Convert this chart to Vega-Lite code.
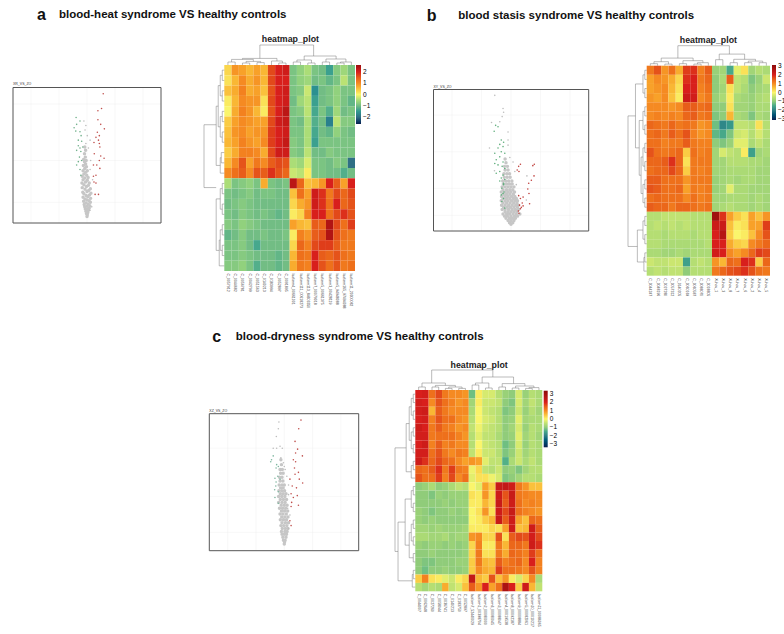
{"$schema":"https://vega.github.io/schema/vega-lite/v6.json","width":784,"height":634,"padding":0,"autosize":{"type":"none"},"background":"white","config":{"font":"Liberation Sans","view":{"stroke":null}},"resolve":{"scale":{"x":"independent","y":"independent","color":"independent"}},"layer":[
{"layer":[
{"data":{"values":[{"v":-2},{"v":-1},{"v":0},{"v":1},{"v":2}]},"mark":{"type":"rule","stroke":"#eeeeee","strokeWidth":0.4},"encoding":{"x":{"field":"v","type":"quantitative","axis":null,"scale":{"domain":[-2.643,2.643],"range":[13,161],"nice":false,"zero":false}},"y":{"datum":-0.53,"type":"quantitative","axis":null,"scale":{"domain":[-0.53,11.46],"range":[223,87.5],"nice":false,"zero":false}},"y2":{"datum":11.46}}},
{"data":{"values":[{"v":1.3},{"v":5},{"v":10}]},"mark":{"type":"rule","stroke":"#eeeeee","strokeWidth":0.4},"encoding":{"y":{"field":"v","type":"quantitative","axis":null},"x":{"datum":-2.643,"type":"quantitative","axis":null},"x2":{"datum":2.643}}},
{"data":{"values":[{"x":0,"y":0.05},{"x":0.01,"y":0.2},{"x":-0.02,"y":0.3},{"x":0.03,"y":0.4},{"x":-0.04,"y":0.5},{"x":0.05,"y":0.6},{"x":-0.06,"y":0.7},{"x":0.02,"y":0.7},{"x":0.08,"y":0.8},{"x":-0.08,"y":0.9},{"x":0,"y":0.95},{"x":0.1,"y":1},{"x":-0.1,"y":1.1},{"x":0.04,"y":1.15},{"x":-0.04,"y":1.25},{"x":0.12,"y":1.3},{"x":-0.12,"y":1.4},{"x":0.07,"y":1.45},{"x":0,"y":1.5},{"x":-0.07,"y":1.6},{"x":0.13,"y":1.65},{"x":-0.14,"y":1.75},{"x":0.03,"y":1.8},{"x":-0.03,"y":1.9},{"x":0.09,"y":1.95},{"x":-0.11,"y":2.05},{"x":0.14,"y":2.1},{"x":-0.15,"y":2.2},{"x":0,"y":2.25},{"x":0.06,"y":2.35},{"x":-0.07,"y":2.45},{"x":0.12,"y":2.5},{"x":-0.17,"y":2.6},{"x":-0.02,"y":2.7},{"x":0.05,"y":2.8},{"x":-0.11,"y":2.85},{"x":-0.18,"y":3},{"x":0.08,"y":3},{"x":-0.05,"y":3.1},{"x":0.01,"y":3.25},{"x":-0.14,"y":3.3},{"x":-0.08,"y":3.45},{"x":0.04,"y":3.5},{"x":-0.17,"y":3.6},{"x":-0.01,"y":3.7},{"x":-0.11,"y":3.8},{"x":-0.05,"y":3.95},{"x":0.01,"y":4.1},{"x":-0.14,"y":4.1},{"x":-0.08,"y":4.3},{"x":-0.02,"y":4.45},{"x":-0.13,"y":4.55},{"x":-0.05,"y":4.7},{"x":-0.09,"y":4.9},{"x":-0.03,"y":5},{"x":-0.12,"y":5.1},{"x":-0.06,"y":5.3},{"x":-0.09,"y":5.6},{"x":-0.05,"y":5.9},{"x":-0.08,"y":6.2}]},"mark":{"type":"circle","size":12,"color":"#c6c6c6","opacity":1},"encoding":{"x":{"field":"x","type":"quantitative","axis":{"orient":"bottom","offset":-411,"values":[-2,-1,-0.263,0.263,1,2],"format":"~g","title":"log2 FoldChange","titleFontSize":3.5,"titleFontWeight":"normal","titlePadding":2,"labelFontSize":3,"labelOverlap":false,"tickSize":1,"tickWidth":0.3,"labelPadding":1,"domain":false,"grid":false}},"y":{"field":"y","type":"quantitative","axis":{"orient":"left","offset":-13,"values":[1.3,5,10],"title":"-log10 P-Value","titleFontSize":3.5,"titleFontWeight":"normal","titlePadding":3,"labelFontSize":3,"labelOverlap":false,"tickSize":1,"tickWidth":0.3,"labelPadding":1,"domain":false,"grid":false}}}},
{"data":{"values":[{"x":-0.11,"y":8.5,"g":"n"},{"x":-0.04,"y":8.1,"g":"n"},{"x":-0.07,"y":7.7,"g":"n"},{"x":0.01,"y":7.2,"g":"n"},{"x":0.11,"y":6.8,"g":"n"},{"x":-0.04,"y":6.5,"g":"n"},{"x":0.05,"y":6.1,"g":"n"},{"x":0.13,"y":5,"g":"n"},{"x":0.11,"y":4.2,"g":"n"},{"x":0.2,"y":3.3,"g":"n"},{"x":0.17,"y":0.9,"g":"n"},{"x":0.11,"y":0.6,"g":"n"},{"x":-0.39,"y":8.8,"g":"d"},{"x":-0.25,"y":8.5,"g":"d"},{"x":-0.37,"y":8.2,"g":"d"},{"x":-0.46,"y":7.9,"g":"d"},{"x":-0.25,"y":7.55,"g":"d"},{"x":-0.4,"y":7.6,"g":"d"},{"x":-0.21,"y":7.2,"g":"d"},{"x":-0.31,"y":6.8,"g":"d"},{"x":-0.19,"y":6.7,"g":"d"},{"x":-0.31,"y":6.3,"g":"d"},{"x":-0.25,"y":6.1,"g":"d"},{"x":-0.37,"y":5.9,"g":"d"},{"x":-0.15,"y":6.2,"g":"d"},{"x":-0.22,"y":5.8,"g":"d"},{"x":-0.27,"y":5.3,"g":"d"},{"x":-0.31,"y":4.9,"g":"d"},{"x":-0.19,"y":5,"g":"d"},{"x":-0.25,"y":4.2,"g":"d"},{"x":-0.37,"y":4.6,"g":"d"},{"x":-0.22,"y":3.7,"g":"d"},{"x":0.58,"y":10.9,"g":"u"},{"x":0.52,"y":9.6,"g":"u"},{"x":0.39,"y":9.4,"g":"u"},{"x":0.39,"y":8.6,"g":"u"},{"x":0.49,"y":8.2,"g":"u"},{"x":0.62,"y":7.8,"g":"u"},{"x":0.37,"y":7.5,"g":"u"},{"x":0.44,"y":7.2,"g":"u"},{"x":0.32,"y":7.05,"g":"u"},{"x":0.41,"y":6.8,"g":"u"},{"x":0.25,"y":6.6,"g":"u"},{"x":0.44,"y":6.5,"g":"u"},{"x":0.46,"y":6.2,"g":"u"},{"x":0.26,"y":5.6,"g":"u"},{"x":0.49,"y":5.4,"g":"u"},{"x":0.44,"y":5,"g":"u"},{"x":0.61,"y":5.2,"g":"u"},{"x":0.23,"y":4.6,"g":"u"},{"x":0.35,"y":4.6,"g":"u"},{"x":0.46,"y":4.3,"g":"u"},{"x":0.32,"y":3.7,"g":"u"},{"x":0.23,"y":3.6,"g":"u"},{"x":0.25,"y":3.1,"g":"u"},{"x":0.32,"y":3,"g":"u"},{"x":0.29,"y":2,"g":"u"},{"x":0.41,"y":2,"g":"u"}]},"mark":{"type":"circle","size":2.5,"opacity":1},"encoding":{"x":{"field":"x","type":"quantitative","axis":null},"y":{"field":"y","type":"quantitative","axis":null},"color":{"field":"g","type":"nominal","legend":null,"scale":{"domain":["n","d","u"],"range":["#bdbdbd","#6fb08a","#c0504d"]}}}},
{"data":{"values":[{}]},"mark":{"type":"rect","filled":false,"stroke":"#555555","strokeWidth":1},"encoding":{"x":{"datum":-2.643,"type":"quantitative","axis":null},"x2":{"datum":2.643},"y":{"datum":-0.53,"type":"quantitative","axis":null},"y2":{"datum":11.46}}},
{"data":{"values":[{"t":"XR_VS_ZO"}]},"mark":{"type":"text","align":"left","baseline":"middle","fontSize":3.5,"color":"#333333"},"encoding":{"x":{"datum":-2.643,"type":"quantitative","axis":null},"y":{"datum":11.77,"type":"quantitative","axis":null},"text":{"field":"t"}}},
{"data":{"values":[{"t":"a"}]},"mark":{"type":"text","align":"left","baseline":"middle","fontSize":16,"fontWeight":"bold","color":"#111111"},"encoding":{"x":{"datum":-1.786,"type":"quantitative","axis":null},"y":{"datum":17.88,"type":"quantitative","axis":null},"text":{"field":"t"}}},
{"data":{"values":[{"t":"blood-heat syndrome VS healthy controls"}]},"mark":{"type":"text","align":"left","baseline":"middle","fontSize":11.5,"fontWeight":"bold","color":"#111111"},"encoding":{"x":{"datum":-1,"type":"quantitative","axis":null},"y":{"datum":17.88,"type":"quantitative","axis":null},"text":{"field":"t"}}}
]},
{"data":{"values":[{"r":1,"c":1,"v":0.3},{"r":1,"c":2,"v":0.9},{"r":1,"c":3,"v":0.8},{"r":1,"c":4,"v":0.6},{"r":1,"c":5,"v":0.8},{"r":1,"c":6,"v":0.6},{"r":1,"c":7,"v":1.7},{"r":1,"c":8,"v":2},{"r":1,"c":9,"v":2.1},{"r":1,"c":10,"v":-0.9},{"r":1,"c":11,"v":-0.7},{"r":1,"c":12,"v":-0.5},{"r":1,"c":13,"v":-0.9},{"r":1,"c":14,"v":-1},{"r":1,"c":15,"v":-1.4},{"r":1,"c":16,"v":-0.8},{"r":1,"c":17,"v":-0.6},{"r":1,"c":18,"v":-0.9},
{"r":2,"c":1,"v":0.2},{"r":2,"c":2,"v":0.6},{"r":2,"c":3,"v":1},{"r":2,"c":4,"v":0.7},{"r":2,"c":5,"v":0.9},{"r":2,"c":6,"v":0.6},{"r":2,"c":7,"v":1.7},{"r":2,"c":8,"v":2},{"r":2,"c":9,"v":2},{"r":2,"c":10,"v":-0.9},{"r":2,"c":11,"v":-0.7},{"r":2,"c":12,"v":-0.6},{"r":2,"c":13,"v":-1},{"r":2,"c":14,"v":-0.9},{"r":2,"c":15,"v":-1.1},{"r":2,"c":16,"v":-0.9},{"r":2,"c":17,"v":-0.4},{"r":2,"c":18,"v":-0.9},
{"r":3,"c":1,"v":0.5},{"r":3,"c":2,"v":0.7},{"r":3,"c":3,"v":1.1},{"r":3,"c":4,"v":0.7},{"r":3,"c":5,"v":0.8},{"r":3,"c":6,"v":0.5},{"r":3,"c":7,"v":1.6},{"r":3,"c":8,"v":2},{"r":3,"c":9,"v":2.1},{"r":3,"c":10,"v":-0.9},{"r":3,"c":11,"v":-0.8},{"r":3,"c":12,"v":-0.3},{"r":3,"c":13,"v":-1.6},{"r":3,"c":14,"v":-1},{"r":3,"c":15,"v":-0.9},{"r":3,"c":16,"v":-0.7},{"r":3,"c":17,"v":-0.9},{"r":3,"c":18,"v":-0.9},
{"r":4,"c":1,"v":0.1},{"r":4,"c":2,"v":0.6},{"r":4,"c":3,"v":1},{"r":4,"c":4,"v":0.9},{"r":4,"c":5,"v":0.9},{"r":4,"c":6,"v":0.2},{"r":4,"c":7,"v":1.7},{"r":4,"c":8,"v":2},{"r":4,"c":9,"v":2.1},{"r":4,"c":10,"v":-1},{"r":4,"c":11,"v":-0.6},{"r":4,"c":12,"v":-0.4},{"r":4,"c":13,"v":-1.4},{"r":4,"c":14,"v":-1},{"r":4,"c":15,"v":-0.9},{"r":4,"c":16,"v":-0.7},{"r":4,"c":17,"v":-0.9},{"r":4,"c":18,"v":-1.1},
{"r":5,"c":1,"v":0},{"r":5,"c":2,"v":0.7},{"r":5,"c":3,"v":1.1},{"r":5,"c":4,"v":0.9},{"r":5,"c":5,"v":0.6},{"r":5,"c":6,"v":0.1},{"r":5,"c":7,"v":1.6},{"r":5,"c":8,"v":2},{"r":5,"c":9,"v":2.3},{"r":5,"c":10,"v":-0.9},{"r":5,"c":11,"v":-0.8},{"r":5,"c":12,"v":-0.4},{"r":5,"c":13,"v":-1.3},{"r":5,"c":14,"v":-0.9},{"r":5,"c":15,"v":-1.2},{"r":5,"c":16,"v":-0.6},{"r":5,"c":17,"v":-1},{"r":5,"c":18,"v":-0.9},
{"r":6,"c":1,"v":0.4},{"r":6,"c":2,"v":0.8},{"r":6,"c":3,"v":1},{"r":6,"c":4,"v":0.9},{"r":6,"c":5,"v":0.8},{"r":6,"c":6,"v":0.8},{"r":6,"c":7,"v":1.7},{"r":6,"c":8,"v":2.1},{"r":6,"c":9,"v":2.2},{"r":6,"c":10,"v":-0.9},{"r":6,"c":11,"v":-1},{"r":6,"c":12,"v":-0.5},{"r":6,"c":13,"v":-1.2},{"r":6,"c":14,"v":-1},{"r":6,"c":15,"v":-1.8},{"r":6,"c":16,"v":-0.4},{"r":6,"c":17,"v":-0.8},{"r":6,"c":18,"v":-0.8},
{"r":7,"c":1,"v":0.5},{"r":7,"c":2,"v":0.9},{"r":7,"c":3,"v":1},{"r":7,"c":4,"v":0.8},{"r":7,"c":5,"v":0.9},{"r":7,"c":6,"v":0.9},{"r":7,"c":7,"v":1.8},{"r":7,"c":8,"v":2},{"r":7,"c":9,"v":2.1},{"r":7,"c":10,"v":-0.9},{"r":7,"c":11,"v":-0.9},{"r":7,"c":12,"v":-0.5},{"r":7,"c":13,"v":-1.3},{"r":7,"c":14,"v":-1},{"r":7,"c":15,"v":-1.1},{"r":7,"c":16,"v":-0.7},{"r":7,"c":17,"v":-0.9},{"r":7,"c":18,"v":-1},
{"r":8,"c":1,"v":0.6},{"r":8,"c":2,"v":0.8},{"r":8,"c":3,"v":1.1},{"r":8,"c":4,"v":0.9},{"r":8,"c":5,"v":0.8},{"r":8,"c":6,"v":1},{"r":8,"c":7,"v":1.8},{"r":8,"c":8,"v":2},{"r":8,"c":9,"v":2.2},{"r":8,"c":10,"v":-0.8},{"r":8,"c":11,"v":-0.9},{"r":8,"c":12,"v":-0.5},{"r":8,"c":13,"v":-1.4},{"r":8,"c":14,"v":-0.9},{"r":8,"c":15,"v":-0.9},{"r":8,"c":16,"v":-0.9},{"r":8,"c":17,"v":-0.9},{"r":8,"c":18,"v":-0.9},
{"r":9,"c":1,"v":0.4},{"r":9,"c":2,"v":0.7},{"r":9,"c":3,"v":1.1},{"r":9,"c":4,"v":1.1},{"r":9,"c":5,"v":1},{"r":9,"c":6,"v":0.7},{"r":9,"c":7,"v":1.7},{"r":9,"c":8,"v":2.1},{"r":9,"c":9,"v":2.1},{"r":9,"c":10,"v":-0.8},{"r":9,"c":11,"v":-0.9},{"r":9,"c":12,"v":-0.4},{"r":9,"c":13,"v":-1},{"r":9,"c":14,"v":-1},{"r":9,"c":15,"v":-0.8},{"r":9,"c":16,"v":-0.9},{"r":9,"c":17,"v":-0.9},{"r":9,"c":18,"v":-0.9},
{"r":10,"c":1,"v":0.6},{"r":10,"c":2,"v":1},{"r":10,"c":3,"v":1.6},{"r":10,"c":4,"v":0.8},{"r":10,"c":5,"v":1.2},{"r":10,"c":6,"v":1},{"r":10,"c":7,"v":1.5},{"r":10,"c":8,"v":1.7},{"r":10,"c":9,"v":1.6},{"r":10,"c":10,"v":-0.5},{"r":10,"c":11,"v":-0.6},{"r":10,"c":12,"v":-0.2},{"r":10,"c":13,"v":-0.9},{"r":10,"c":14,"v":-0.9},{"r":10,"c":15,"v":-1},{"r":10,"c":16,"v":-0.8},{"r":10,"c":17,"v":-0.9},{"r":10,"c":18,"v":-2},
{"r":11,"c":1,"v":1},{"r":11,"c":2,"v":1.3},{"r":11,"c":3,"v":1.5},{"r":11,"c":4,"v":1},{"r":11,"c":5,"v":1.6},{"r":11,"c":6,"v":1.5},{"r":11,"c":7,"v":1.9},{"r":11,"c":8,"v":1.6},{"r":11,"c":9,"v":1.4},{"r":11,"c":10,"v":-0.3},{"r":11,"c":11,"v":-0.4},{"r":11,"c":12,"v":0.1},{"r":11,"c":13,"v":-0.9},{"r":11,"c":14,"v":-0.9},{"r":11,"c":15,"v":-1},{"r":11,"c":16,"v":-1},{"r":11,"c":17,"v":-1.2},{"r":11,"c":18,"v":-1},
{"r":12,"c":1,"v":-0.5},{"r":12,"c":2,"v":-0.9},{"r":12,"c":3,"v":-0.8},{"r":12,"c":4,"v":-0.7},{"r":12,"c":5,"v":-0.9},{"r":12,"c":6,"v":0.7},{"r":12,"c":7,"v":-0.9},{"r":12,"c":8,"v":-1},{"r":12,"c":9,"v":-0.9},{"r":12,"c":10,"v":2.3},{"r":12,"c":11,"v":1.4},{"r":12,"c":12,"v":0.5},{"r":12,"c":13,"v":0.6},{"r":12,"c":14,"v":0.9},{"r":12,"c":15,"v":2},{"r":12,"c":16,"v":1.5},{"r":12,"c":17,"v":0.8},{"r":12,"c":18,"v":2},
{"r":13,"c":1,"v":-0.9},{"r":13,"c":2,"v":-1},{"r":13,"c":3,"v":-0.9},{"r":13,"c":4,"v":-0.8},{"r":13,"c":5,"v":-1},{"r":13,"c":6,"v":-0.9},{"r":13,"c":7,"v":-0.9},{"r":13,"c":8,"v":-1},{"r":13,"c":9,"v":-1},{"r":13,"c":10,"v":0.5},{"r":13,"c":11,"v":1.3},{"r":13,"c":12,"v":0.8},{"r":13,"c":13,"v":2.1},{"r":13,"c":14,"v":1.9},{"r":13,"c":15,"v":1.2},{"r":13,"c":16,"v":1.7},{"r":13,"c":17,"v":1.4},{"r":13,"c":18,"v":1.7},
{"r":14,"c":1,"v":-1},{"r":14,"c":2,"v":-0.9},{"r":14,"c":3,"v":-0.8},{"r":14,"c":4,"v":-0.9},{"r":14,"c":5,"v":-1},{"r":14,"c":6,"v":-1},{"r":14,"c":7,"v":-1},{"r":14,"c":8,"v":-1},{"r":14,"c":9,"v":-1},{"r":14,"c":10,"v":0.3},{"r":14,"c":11,"v":0.7},{"r":14,"c":12,"v":0.9},{"r":14,"c":13,"v":2.1},{"r":14,"c":14,"v":1.9},{"r":14,"c":15,"v":1.3},{"r":14,"c":16,"v":2},{"r":14,"c":17,"v":1.4},{"r":14,"c":18,"v":1.6},
{"r":15,"c":1,"v":-0.9},{"r":15,"c":2,"v":-1},{"r":15,"c":3,"v":-0.8},{"r":15,"c":4,"v":-0.9},{"r":15,"c":5,"v":-1},{"r":15,"c":6,"v":-0.9},{"r":15,"c":7,"v":-1},{"r":15,"c":8,"v":-1.1},{"r":15,"c":9,"v":-1},{"r":15,"c":10,"v":0.1},{"r":15,"c":11,"v":0.3},{"r":15,"c":12,"v":1.1},{"r":15,"c":13,"v":2},{"r":15,"c":14,"v":2},{"r":15,"c":15,"v":1.3},{"r":15,"c":16,"v":1.7},{"r":15,"c":17,"v":1.9},{"r":15,"c":18,"v":1.6},
{"r":16,"c":1,"v":-0.8},{"r":16,"c":2,"v":-0.9},{"r":16,"c":3,"v":-0.7},{"r":16,"c":4,"v":-0.8},{"r":16,"c":5,"v":-0.9},{"r":16,"c":6,"v":-1},{"r":16,"c":7,"v":-1},{"r":16,"c":8,"v":-1},{"r":16,"c":9,"v":-1},{"r":16,"c":10,"v":0.8},{"r":16,"c":11,"v":0.6},{"r":16,"c":12,"v":0.5},{"r":16,"c":13,"v":1.5},{"r":16,"c":14,"v":1.4},{"r":16,"c":15,"v":2.4},{"r":16,"c":16,"v":1.7},{"r":16,"c":17,"v":1.3},{"r":16,"c":18,"v":1.8},
{"r":17,"c":1,"v":-1.1},{"r":17,"c":2,"v":-1},{"r":17,"c":3,"v":-0.8},{"r":17,"c":4,"v":-1},{"r":17,"c":5,"v":-1},{"r":17,"c":6,"v":-0.9},{"r":17,"c":7,"v":-1},{"r":17,"c":8,"v":-1},{"r":17,"c":9,"v":-0.9},{"r":17,"c":10,"v":0.1},{"r":17,"c":11,"v":1.1},{"r":17,"c":12,"v":0.9},{"r":17,"c":13,"v":1.5},{"r":17,"c":14,"v":1.6},{"r":17,"c":15,"v":2.4},{"r":17,"c":16,"v":1.6},{"r":17,"c":17,"v":1.3},{"r":17,"c":18,"v":1.2},
{"r":18,"c":1,"v":-0.9},{"r":18,"c":2,"v":-0.9},{"r":18,"c":3,"v":-0.8},{"r":18,"c":4,"v":-1},{"r":18,"c":5,"v":-1.3},{"r":18,"c":6,"v":-1},{"r":18,"c":7,"v":-1},{"r":18,"c":8,"v":-1},{"r":18,"c":9,"v":-1},{"r":18,"c":10,"v":0.3},{"r":18,"c":11,"v":1.4},{"r":18,"c":12,"v":1.1},{"r":18,"c":13,"v":1.7},{"r":18,"c":14,"v":1.8},{"r":18,"c":15,"v":1.8},{"r":18,"c":16,"v":1.5},{"r":18,"c":17,"v":1.2},{"r":18,"c":18,"v":1.2},
{"r":19,"c":1,"v":-0.9},{"r":19,"c":2,"v":-0.9},{"r":19,"c":3,"v":-0.8},{"r":19,"c":4,"v":-0.9},{"r":19,"c":5,"v":-1},{"r":19,"c":6,"v":-1},{"r":19,"c":7,"v":-1},{"r":19,"c":8,"v":-1.1},{"r":19,"c":9,"v":-1},{"r":19,"c":10,"v":0.6},{"r":19,"c":11,"v":1.3},{"r":19,"c":12,"v":1.2},{"r":19,"c":13,"v":2},{"r":19,"c":14,"v":1.5},{"r":19,"c":15,"v":1.4},{"r":19,"c":16,"v":1.6},{"r":19,"c":17,"v":1.3},{"r":19,"c":18,"v":1.2},
{"r":20,"c":1,"v":-0.8},{"r":20,"c":2,"v":-0.8},{"r":20,"c":3,"v":-0.7},{"r":20,"c":4,"v":-0.9},{"r":20,"c":5,"v":-1.2},{"r":20,"c":6,"v":-1},{"r":20,"c":7,"v":-1},{"r":20,"c":8,"v":-1.1},{"r":20,"c":9,"v":-1},{"r":20,"c":10,"v":0.7},{"r":20,"c":11,"v":1.2},{"r":20,"c":12,"v":1.1},{"r":20,"c":13,"v":2},{"r":20,"c":14,"v":1.6},{"r":20,"c":15,"v":1.3},{"r":20,"c":16,"v":1.6},{"r":20,"c":17,"v":1.2},{"r":20,"c":18,"v":1.3}]},"mark":{"type":"rect","stroke":null},"encoding":{"x":{"field":"c","type":"ordinal","scale":{"domain":[1,2,3,4,5,6,7,8,9,10,11,12,13,14,15,16,17,18],"range":[224.3,355],"paddingInner":0,"paddingOuter":0},"axis":{"orient":"bottom","offset":-363,"title":null,"domain":false,"ticks":false,"labelAngle":90,"labelAlign":"left","labelBaseline":"middle","labelFontSize":3.5,"labelColor":"#333333","labelPadding":2,"labelOverlap":false,"labelBound":false,"labelExpr":"['C_0057912','C_0044682','C_0056781','C_0042799','C_0051563','C_0140213','C_0183994','C_0052897','C_0091895','Isoform4_00661001','Isoform111_00618273','Isoform113_84603350','Isoform7_00079018','Isoform5_00661375','Isoform3_00428119','Isoform5_94948088','Isoform165_97494088','Isoform11_20000082'][datum.value-1]"}},"y":{"field":"r","type":"ordinal","axis":null,"scale":{"domain":[1,2,3,4,5,6,7,8,9,10,11,12,13,14,15,16,17,18,19,20],"range":[65,271],"paddingInner":0,"paddingOuter":0}},"color":{"field":"v","type":"quantitative","scale":{"domain":[-2.62,-2,-1,0,1,2,2.62],"range":["#0d1f4f","#2f6f85","#72bd84","#faf56c","#f58a22","#d81f1c","#9c0e0e"]},"legend":{"orient":"none","legendX":356,"legendY":65,"title":null,"gradientLength":59,"gradientThickness":5,"values":[-2,-1,0,1,2],"labelFontSize":6.5,"labelOverlap":false,"labelOffset":2,"padding":0}}}},
{"layer":[
{"data":{"values":[{"a":0.5,"b":1.5,"p":1.5,"q":1.5},{"a":0.5,"b":0.5,"p":0,"q":1.5},{"a":1.5,"b":1.5,"p":0,"q":1.5},{"a":2.5,"b":3.5,"p":1,"q":1},{"a":2.5,"b":2.5,"p":0,"q":1},{"a":3.5,"b":3.5,"p":0,"q":1},{"a":4.5,"b":5.5,"p":1.2,"q":1.2},{"a":4.5,"b":4.5,"p":0,"q":1.2},{"a":5.5,"b":5.5,"p":0,"q":1.2},{"a":3,"b":5,"p":1.8,"q":1.8},{"a":3,"b":3,"p":1,"q":1.8},{"a":5,"b":5,"p":1.2,"q":1.8},{"a":1,"b":4,"p":2.8,"q":2.8},{"a":1,"b":1,"p":1.5,"q":2.8},{"a":4,"b":4,"p":1.8,"q":2.8},{"a":7.5,"b":8.5,"p":1,"q":1},{"a":7.5,"b":7.5,"p":0,"q":1},{"a":8.5,"b":8.5,"p":0,"q":1},{"a":6.5,"b":8,"p":2,"q":2},{"a":6.5,"b":6.5,"p":0,"q":2},{"a":8,"b":8,"p":1,"q":2},{"a":2.5,"b":7.25,"p":3.3,"q":3.3},{"a":2.5,"b":2.5,"p":2.8,"q":3.3},{"a":7.25,"b":7.25,"p":2,"q":3.3},{"a":9.5,"b":10.5,"p":1.5,"q":1.5},{"a":9.5,"b":9.5,"p":0,"q":1.5},{"a":10.5,"b":10.5,"p":0,"q":1.5},{"a":11.5,"b":12.5,"p":1,"q":1},{"a":11.5,"b":11.5,"p":0,"q":1},{"a":12.5,"b":12.5,"p":0,"q":1},{"a":10,"b":12,"p":2.5,"q":2.5},{"a":10,"b":10,"p":1.5,"q":2.5},{"a":12,"b":12,"p":1,"q":2.5},{"a":13.5,"b":14.5,"p":1.5,"q":1.5},{"a":13.5,"b":13.5,"p":0,"q":1.5},{"a":14.5,"b":14.5,"p":0,"q":1.5},{"a":15.5,"b":16.5,"p":1,"q":1},{"a":15.5,"b":15.5,"p":0,"q":1},{"a":16.5,"b":16.5,"p":0,"q":1},{"a":16,"b":17.5,"p":1.5,"q":1.5},{"a":16,"b":16,"p":1,"q":1.5},{"a":17.5,"b":17.5,"p":0,"q":1.5},{"a":14,"b":16.75,"p":3,"q":3},{"a":14,"b":14,"p":1.5,"q":3},{"a":16.75,"b":16.75,"p":1.5,"q":3},{"a":11,"b":15.4,"p":4.5,"q":4.5},{"a":11,"b":11,"p":2.5,"q":4.5},{"a":15.4,"b":15.4,"p":3,"q":4.5},{"a":4.9,"b":12.3,"p":10,"q":10},{"a":4.9,"b":4.9,"p":3.3,"q":10},{"a":12.3,"b":12.3,"p":4.5,"q":10}]},"mark":{"type":"rule","stroke":"#777777","strokeWidth":0.5},"encoding":{"x":{"field":"a","type":"quantitative","axis":null,"scale":{"domain":[0,18],"range":[224.3,355],"nice":false,"zero":false}},"x2":{"field":"b"},"y":{"field":"p","type":"quantitative","axis":null,"scale":{"domain":[0,10],"range":[65,45],"nice":false,"zero":false}},"y2":{"field":"q"}}},
{"data":{"values":[{"t":"heatmap_plot"}]},"mark":{"type":"text","align":"center","baseline":"middle","fontSize":8.8,"fontWeight":"bold","color":"#222222"},"encoding":{"x":{"datum":9.1,"type":"quantitative","axis":null},"y":{"datum":13,"type":"quantitative","axis":null},"text":{"field":"t"}}}
]},
{"data":{"values":[{"a":1,"b":1,"p":0.5,"q":1.5},{"a":0,"b":1,"p":0.5,"q":0.5},{"a":0,"b":1,"p":1.5,"q":1.5},{"a":1,"b":1,"p":2.5,"q":3.5},{"a":0,"b":1,"p":2.5,"q":2.5},{"a":0,"b":1,"p":3.5,"q":3.5},{"a":2,"b":2,"p":1,"q":3},{"a":1,"b":2,"p":1,"q":1},{"a":1,"b":2,"p":3,"q":3},{"a":1,"b":1,"p":4.5,"q":5.5},{"a":0,"b":1,"p":4.5,"q":4.5},{"a":0,"b":1,"p":5.5,"q":5.5},{"a":1,"b":1,"p":6.5,"q":7.5},{"a":0,"b":1,"p":6.5,"q":6.5},{"a":0,"b":1,"p":7.5,"q":7.5},{"a":2,"b":2,"p":5,"q":7},{"a":1,"b":2,"p":5,"q":5},{"a":1,"b":2,"p":7,"q":7},{"a":3,"b":3,"p":2,"q":6},{"a":2,"b":3,"p":2,"q":2},{"a":2,"b":3,"p":6,"q":6},{"a":1.5,"b":1.5,"p":8.5,"q":9.5},{"a":0,"b":1.5,"p":8.5,"q":8.5},{"a":0,"b":1.5,"p":9.5,"q":9.5},{"a":2,"b":2,"p":9,"q":10.5},{"a":1.5,"b":2,"p":9,"q":9},{"a":0,"b":2,"p":10.5,"q":10.5},{"a":4,"b":4,"p":4,"q":9.75},{"a":3,"b":4,"p":4,"q":4},{"a":2,"b":4,"p":9.75,"q":9.75},{"a":1,"b":1,"p":11.5,"q":12.5},{"a":0,"b":1,"p":11.5,"q":11.5},{"a":0,"b":1,"p":12.5,"q":12.5},{"a":1,"b":1,"p":13.5,"q":14.5},{"a":0,"b":1,"p":13.5,"q":13.5},{"a":0,"b":1,"p":14.5,"q":14.5},{"a":2,"b":2,"p":12,"q":14},{"a":1,"b":2,"p":12,"q":12},{"a":1,"b":2,"p":14,"q":14},{"a":1,"b":1,"p":15.5,"q":16.5},{"a":0,"b":1,"p":15.5,"q":15.5},{"a":0,"b":1,"p":16.5,"q":16.5},{"a":1,"b":1,"p":17.5,"q":18.5},{"a":0,"b":1,"p":17.5,"q":17.5},{"a":0,"b":1,"p":18.5,"q":18.5},{"a":2,"b":2,"p":16,"q":18},{"a":1,"b":2,"p":16,"q":16},{"a":1,"b":2,"p":18,"q":18},{"a":2.5,"b":2.5,"p":17,"q":19.5},{"a":2,"b":2.5,"p":17,"q":17},{"a":0,"b":2.5,"p":19.5,"q":19.5},{"a":4,"b":4,"p":13,"q":18},{"a":2,"b":4,"p":13,"q":13},{"a":2.5,"b":4,"p":18,"q":18},{"a":10,"b":10,"p":5.8,"q":11.9},{"a":4,"b":10,"p":5.8,"q":5.8},{"a":4,"b":10,"p":11.9,"q":11.9}]},"mark":{"type":"rule","stroke":"#777777","strokeWidth":0.5},"encoding":{"x":{"field":"a","type":"quantitative","axis":null,"scale":{"domain":[0,10],"range":[224.3,204],"nice":false,"zero":false}},"x2":{"field":"b"},"y":{"field":"p","type":"quantitative","axis":null,"scale":{"domain":[0,20],"range":[65,271],"nice":false,"zero":false}},"y2":{"field":"q"}}},
{"layer":[
{"data":{"values":[{"v":-2},{"v":-1},{"v":0},{"v":1},{"v":2}]},"mark":{"type":"rule","stroke":"#eeeeee","strokeWidth":0.4},"encoding":{"x":{"field":"v","type":"quantitative","axis":null,"scale":{"domain":[-2.627,2.634],"range":[433.5,588.7],"nice":false,"zero":false}},"y":{"datum":-0.83,"type":"quantitative","axis":null,"scale":{"domain":[-0.83,18.5],"range":[231,89.5],"nice":false,"zero":false}},"y2":{"datum":18.5}}},
{"data":{"values":[{"v":1.3},{"v":5},{"v":10},{"v":15}]},"mark":{"type":"rule","stroke":"#eeeeee","strokeWidth":0.4},"encoding":{"y":{"field":"v","type":"quantitative","axis":null},"x":{"datum":-2.627,"type":"quantitative","axis":null},"x2":{"datum":2.634}}},
{"data":{"values":[{"x":0,"y":0.1},{"x":-0.05,"y":0.3},{"x":0.06,"y":0.3},{"x":-0.1,"y":0.6},{"x":0.1,"y":0.6},{"x":0,"y":0.6},{"x":-0.17,"y":0.9},{"x":0.15,"y":0.9},{"x":-0.05,"y":0.9},{"x":0.05,"y":0.9},{"x":-0.22,"y":1.2},{"x":-0.12,"y":1.2},{"x":0,"y":1.2},{"x":0.12,"y":1.2},{"x":0.22,"y":1.2},{"x":-0.27,"y":1.5},{"x":-0.15,"y":1.5},{"x":-0.05,"y":1.5},{"x":0.07,"y":1.5},{"x":0.18,"y":1.5},{"x":0.3,"y":1.5},{"x":-0.2,"y":1.8},{"x":-0.1,"y":1.8},{"x":0,"y":1.8},{"x":0.1,"y":1.8},{"x":0.2,"y":1.8},{"x":-0.3,"y":2.1},{"x":-0.2,"y":2.1},{"x":-0.08,"y":2.1},{"x":0.04,"y":2.1},{"x":0.15,"y":2.1},{"x":0.26,"y":2.1},{"x":-0.25,"y":2.4},{"x":-0.13,"y":2.4},{"x":-0.02,"y":2.4},{"x":0.1,"y":2.4},{"x":0.22,"y":2.4},{"x":-0.32,"y":2.7},{"x":-0.2,"y":2.7},{"x":-0.08,"y":2.7},{"x":0.04,"y":2.7},{"x":0.16,"y":2.7},{"x":0.25,"y":2.7},{"x":-0.27,"y":3},{"x":-0.15,"y":3},{"x":-0.03,"y":3},{"x":0.09,"y":3},{"x":0.2,"y":3},{"x":-0.33,"y":3.3},{"x":-0.2,"y":3.3},{"x":-0.1,"y":3.3},{"x":0.02,"y":3.3},{"x":0.13,"y":3.3},{"x":0.22,"y":3.3},{"x":-0.27,"y":3.6},{"x":-0.15,"y":3.6},{"x":-0.04,"y":3.6},{"x":0.08,"y":3.6},{"x":0.18,"y":3.6},{"x":-0.32,"y":3.9},{"x":-0.2,"y":3.9},{"x":-0.1,"y":3.9},{"x":0.02,"y":3.9},{"x":0.13,"y":3.9},{"x":-0.26,"y":4.2},{"x":-0.15,"y":4.2},{"x":-0.04,"y":4.2},{"x":0.08,"y":4.2},{"x":-0.33,"y":4.5},{"x":-0.2,"y":4.5},{"x":-0.1,"y":4.5},{"x":0,"y":4.5},{"x":0.12,"y":4.5},{"x":-0.27,"y":4.8},{"x":-0.15,"y":4.8},{"x":-0.04,"y":4.8},{"x":0.06,"y":4.8},{"x":-0.3,"y":5.2},{"x":-0.2,"y":5.2},{"x":-0.1,"y":5.2},{"x":0,"y":5.2},{"x":0.1,"y":5.2},{"x":-0.26,"y":5.6},{"x":-0.15,"y":5.6},{"x":-0.05,"y":5.6},{"x":0.04,"y":5.6},{"x":-0.28,"y":6},{"x":-0.18,"y":6},{"x":-0.08,"y":6},{"x":0.03,"y":6},{"x":-0.23,"y":6.5},{"x":-0.13,"y":6.5},{"x":-0.03,"y":6.5},{"x":-0.24,"y":7},{"x":-0.14,"y":7},{"x":-0.05,"y":7},{"x":-0.2,"y":7.5},{"x":-0.1,"y":7.5},{"x":-0.22,"y":8},{"x":-0.12,"y":8},{"x":-0.17,"y":8.5},{"x":-0.2,"y":9}]},"mark":{"type":"circle","size":12,"color":"#c6c6c6","opacity":1},"encoding":{"x":{"field":"x","type":"quantitative","axis":{"orient":"bottom","offset":-403,"values":[-2,-1,-0.263,0.263,1,2],"format":"~g","title":"log2 FoldChange","titleFontSize":3.5,"titleFontWeight":"normal","titlePadding":2,"labelFontSize":3,"labelOverlap":false,"tickSize":1,"tickWidth":0.3,"labelPadding":1,"domain":false,"grid":false}},"y":{"field":"y","type":"quantitative","axis":{"orient":"left","offset":-433.5,"values":[1.3,5,10,15],"title":"-log10 P-Value","titleFontSize":3.5,"titleFontWeight":"normal","titlePadding":3,"labelFontSize":3,"labelOverlap":false,"tickSize":1,"tickWidth":0.3,"labelPadding":1,"domain":false,"grid":false}}}},
{"data":{"values":[{"x":-0.55,"y":17.7,"g":"n"},{"x":-0.27,"y":15.9,"g":"n"},{"x":-0.25,"y":15.4,"g":"n"},{"x":-0.3,"y":14.8,"g":"n"},{"x":-0.38,"y":14.1,"g":"n"},{"x":-0.66,"y":14,"g":"n"},{"x":-0.1,"y":12.7,"g":"n"},{"x":-0.73,"y":10.5,"g":"n"},{"x":-0.56,"y":7.4,"g":"n"},{"x":-0.1,"y":11.6,"g":"n"},{"x":-0.1,"y":10.9,"g":"n"},{"x":0.54,"y":6.7,"g":"n"},{"x":0.07,"y":8.6,"g":"n"},{"x":0.13,"y":7.3,"g":"n"},{"x":0.18,"y":5.5,"g":"n"},{"x":-0.04,"y":9.2,"g":"n"},{"x":0.52,"y":3.4,"g":"n"},{"x":-0.52,"y":13.6,"g":"d"},{"x":-0.44,"y":13.4,"g":"d"},{"x":-0.57,"y":12.8,"g":"d"},{"x":-0.33,"y":11.6,"g":"d"},{"x":-0.25,"y":11.3,"g":"d"},{"x":-0.38,"y":11,"g":"d"},{"x":-0.44,"y":10.5,"g":"d"},{"x":-0.27,"y":10.7,"g":"d"},{"x":-0.55,"y":9.8,"g":"d"},{"x":-0.33,"y":10,"g":"d"},{"x":-0.21,"y":9.8,"g":"d"},{"x":-0.5,"y":8.9,"g":"d"},{"x":-0.38,"y":9.3,"g":"d"},{"x":-0.27,"y":8.6,"g":"d"},{"x":-0.55,"y":8.4,"g":"d"},{"x":-0.44,"y":8.2,"g":"d"},{"x":-0.3,"y":8,"g":"d"},{"x":-0.21,"y":7.7,"g":"d"},{"x":-0.38,"y":7.3,"g":"d"},{"x":-0.27,"y":6.8,"g":"d"},{"x":-0.5,"y":7.05,"g":"d"},{"x":-0.33,"y":6.4,"g":"d"},{"x":-0.21,"y":6.2,"g":"d"},{"x":-0.25,"y":5.7,"g":"d"},{"x":-0.38,"y":6,"g":"d"},{"x":-0.31,"y":5,"g":"d"},{"x":-0.24,"y":4.5,"g":"d"},{"x":-0.33,"y":4.1,"g":"d"},{"x":-0.25,"y":3.6,"g":"d"},{"x":-0.31,"y":3.2,"g":"d"},{"x":-0.21,"y":2.3,"g":"d"},{"x":-0.25,"y":5.5,"g":"d"},{"x":-0.27,"y":4.3,"g":"d"},{"x":0.79,"y":8.3,"g":"u"},{"x":0.74,"y":8.1,"g":"u"},{"x":0.32,"y":8.3,"g":"u"},{"x":0.26,"y":8,"g":"u"},{"x":0.21,"y":7.5,"g":"u"},{"x":0.27,"y":7.3,"g":"u"},{"x":0.78,"y":6.7,"g":"u"},{"x":0.69,"y":6.1,"g":"u"},{"x":0.6,"y":5.7,"g":"u"},{"x":0.57,"y":4.9,"g":"u"},{"x":0.61,"y":4.3,"g":"u"},{"x":0.26,"y":4,"g":"u"},{"x":0.32,"y":3.6,"g":"u"},{"x":0.41,"y":3.8,"g":"u"},{"x":0.63,"y":2.9,"g":"u"},{"x":0.38,"y":3,"g":"u"},{"x":0.29,"y":2.7,"g":"u"},{"x":0.32,"y":2.2,"g":"u"},{"x":0.25,"y":1.9,"g":"u"},{"x":0.41,"y":2.6,"g":"u"},{"x":0.27,"y":1.6,"g":"u"},{"x":0.35,"y":2.4,"g":"u"}]},"mark":{"type":"circle","size":2.5,"opacity":1},"encoding":{"x":{"field":"x","type":"quantitative","axis":null},"y":{"field":"y","type":"quantitative","axis":null},"color":{"field":"g","type":"nominal","legend":null,"scale":{"domain":["n","d","u"],"range":["#bdbdbd","#5fae7c","#c0403d"]}}}},
{"data":{"values":[{}]},"mark":{"type":"rect","filled":false,"stroke":"#555555","strokeWidth":1},"encoding":{"x":{"datum":-2.627,"type":"quantitative","axis":null},"x2":{"datum":2.634},"y":{"datum":-0.83,"type":"quantitative","axis":null},"y2":{"datum":18.5}}},
{"data":{"values":[{"t":"XY_VS_ZO"}]},"mark":{"type":"text","align":"left","baseline":"middle","fontSize":3.5,"color":"#333333"},"encoding":{"x":{"datum":-2.627,"type":"quantitative","axis":null},"y":{"datum":18.9,"type":"quantitative","axis":null},"text":{"field":"t"}}},
{"data":{"values":[{"t":"b"}]},"mark":{"type":"text","align":"left","baseline":"middle","fontSize":16,"fontWeight":"bold","color":"#111111"},"encoding":{"x":{"datum":-2.857,"type":"quantitative","axis":null},"y":{"datum":28.54,"type":"quantitative","axis":null},"text":{"field":"t"}}},
{"data":{"values":[{"t":"blood stasis syndrome VS healthy controls"}]},"mark":{"type":"text","align":"left","baseline":"middle","fontSize":11.5,"fontWeight":"bold","color":"#111111"},"encoding":{"x":{"datum":-1.786,"type":"quantitative","axis":null},"y":{"datum":28.54,"type":"quantitative","axis":null},"text":{"field":"t"}}}
]},
{"data":{"values":[{"r":1,"c":1,"v":1.2},{"r":1,"c":2,"v":1.6},{"r":1,"c":3,"v":0.9},{"r":1,"c":4,"v":1.3},{"r":1,"c":5,"v":0.7},{"r":1,"c":6,"v":1.8},{"r":1,"c":7,"v":1.9},{"r":1,"c":8,"v":1.1},{"r":1,"c":9,"v":1.5},{"r":1,"c":10,"v":-0.9},{"r":1,"c":11,"v":-0.8},{"r":1,"c":12,"v":-1.5},{"r":1,"c":13,"v":-0.2},{"r":1,"c":14,"v":0.2},{"r":1,"c":15,"v":-0.8},{"r":1,"c":16,"v":-0.6},{"r":1,"c":17,"v":-0.7},
{"r":2,"c":1,"v":0.8},{"r":2,"c":2,"v":1},{"r":2,"c":3,"v":0.9},{"r":2,"c":4,"v":0.7},{"r":2,"c":5,"v":0.3},{"r":2,"c":6,"v":1.9},{"r":2,"c":7,"v":2},{"r":2,"c":8,"v":1.2},{"r":2,"c":9,"v":1.4},{"r":2,"c":10,"v":-1},{"r":2,"c":11,"v":-0.7},{"r":2,"c":12,"v":1.5},{"r":2,"c":13,"v":-0.5},{"r":2,"c":14,"v":-0.6},{"r":2,"c":15,"v":-1.1},{"r":2,"c":16,"v":-0.9},{"r":2,"c":17,"v":-0.4},
{"r":3,"c":1,"v":0.8},{"r":3,"c":2,"v":0.9},{"r":3,"c":3,"v":1},{"r":3,"c":4,"v":0.6},{"r":3,"c":5,"v":0.2},{"r":3,"c":6,"v":2},{"r":3,"c":7,"v":2},{"r":3,"c":8,"v":1.1},{"r":3,"c":9,"v":1.3},{"r":3,"c":10,"v":-1},{"r":3,"c":11,"v":-0.8},{"r":3,"c":12,"v":0.2},{"r":3,"c":13,"v":-0.5},{"r":3,"c":14,"v":-0.7},{"r":3,"c":15,"v":-1},{"r":3,"c":16,"v":-0.8},{"r":3,"c":17,"v":-0.7},
{"r":4,"c":1,"v":0.9},{"r":4,"c":2,"v":0.8},{"r":4,"c":3,"v":1},{"r":4,"c":4,"v":0.5},{"r":4,"c":5,"v":0.1},{"r":4,"c":6,"v":2.2},{"r":4,"c":7,"v":2.1},{"r":4,"c":8,"v":1},{"r":4,"c":9,"v":1.2},{"r":4,"c":10,"v":-0.9},{"r":4,"c":11,"v":-0.7},{"r":4,"c":12,"v":0.1},{"r":4,"c":13,"v":-0.7},{"r":4,"c":14,"v":-0.8},{"r":4,"c":15,"v":-0.9},{"r":4,"c":16,"v":-0.7},{"r":4,"c":17,"v":-0.6},
{"r":5,"c":1,"v":1},{"r":5,"c":2,"v":1},{"r":5,"c":3,"v":1},{"r":5,"c":4,"v":0.9},{"r":5,"c":5,"v":1},{"r":5,"c":6,"v":1.5},{"r":5,"c":7,"v":1.5},{"r":5,"c":8,"v":1.3},{"r":5,"c":9,"v":1.4},{"r":5,"c":10,"v":-1},{"r":5,"c":11,"v":-1},{"r":5,"c":12,"v":0.2},{"r":5,"c":13,"v":-0.8},{"r":5,"c":14,"v":-0.8},{"r":5,"c":15,"v":-0.9},{"r":5,"c":16,"v":-0.7},{"r":5,"c":17,"v":-0.7},
{"r":6,"c":1,"v":1},{"r":6,"c":2,"v":1.1},{"r":6,"c":3,"v":1},{"r":6,"c":4,"v":1.1},{"r":6,"c":5,"v":1},{"r":6,"c":6,"v":1.4},{"r":6,"c":7,"v":1.5},{"r":6,"c":8,"v":1.2},{"r":6,"c":9,"v":1.3},{"r":6,"c":10,"v":-1.1},{"r":6,"c":11,"v":-1},{"r":6,"c":12,"v":0.6},{"r":6,"c":13,"v":-0.7},{"r":6,"c":14,"v":-0.8},{"r":6,"c":15,"v":-1.1},{"r":6,"c":16,"v":-0.7},{"r":6,"c":17,"v":-0.8},
{"r":7,"c":1,"v":1.4},{"r":7,"c":2,"v":1.3},{"r":7,"c":3,"v":1.2},{"r":7,"c":4,"v":1.4},{"r":7,"c":5,"v":1.2},{"r":7,"c":6,"v":1.3},{"r":7,"c":7,"v":1.2},{"r":7,"c":8,"v":0.9},{"r":7,"c":9,"v":1},{"r":7,"c":10,"v":-1.2},{"r":7,"c":11,"v":-1.9},{"r":7,"c":12,"v":-1.7},{"r":7,"c":13,"v":-0.5},{"r":7,"c":14,"v":-0.5},{"r":7,"c":15,"v":-0.6},{"r":7,"c":16,"v":0.2},{"r":7,"c":17,"v":-0.6},
{"r":8,"c":1,"v":1.3},{"r":8,"c":2,"v":1.4},{"r":8,"c":3,"v":1.2},{"r":8,"c":4,"v":1.5},{"r":8,"c":5,"v":1.3},{"r":8,"c":6,"v":1.6},{"r":8,"c":7,"v":1.1},{"r":8,"c":8,"v":0.9},{"r":8,"c":9,"v":1},{"r":8,"c":10,"v":-1.3},{"r":8,"c":11,"v":-1.5},{"r":8,"c":12,"v":-1.1},{"r":8,"c":13,"v":-0.4},{"r":8,"c":14,"v":-0.3},{"r":8,"c":15,"v":-0.6},{"r":8,"c":16,"v":-0.3},{"r":8,"c":17,"v":-0.6},
{"r":9,"c":1,"v":1.3},{"r":9,"c":2,"v":1.3},{"r":9,"c":3,"v":1.1},{"r":9,"c":4,"v":1.2},{"r":9,"c":5,"v":1.2},{"r":9,"c":6,"v":1.5},{"r":9,"c":7,"v":1.2},{"r":9,"c":8,"v":1.1},{"r":9,"c":9,"v":1.1},{"r":9,"c":10,"v":-1},{"r":9,"c":11,"v":-1.1},{"r":9,"c":12,"v":-0.9},{"r":9,"c":13,"v":-0.2},{"r":9,"c":14,"v":-0.2},{"r":9,"c":15,"v":-0.7},{"r":9,"c":16,"v":-0.5},{"r":9,"c":17,"v":-0.7},
{"r":10,"c":1,"v":1.6},{"r":10,"c":2,"v":1.3},{"r":10,"c":3,"v":1.2},{"r":10,"c":4,"v":1.3},{"r":10,"c":5,"v":1.4},{"r":10,"c":6,"v":0.4},{"r":10,"c":7,"v":1.3},{"r":10,"c":8,"v":1.1},{"r":10,"c":9,"v":1.2},{"r":10,"c":10,"v":-0.8},{"r":10,"c":11,"v":-0.3},{"r":10,"c":12,"v":-0.5},{"r":10,"c":13,"v":-0.6},{"r":10,"c":14,"v":0.1},{"r":10,"c":15,"v":-1.6},{"r":10,"c":16,"v":-0.8},{"r":10,"c":17,"v":-0.7},
{"r":11,"c":1,"v":1.4},{"r":11,"c":2,"v":1.4},{"r":11,"c":3,"v":1.5},{"r":11,"c":4,"v":1.9},{"r":11,"c":5,"v":1.4},{"r":11,"c":6,"v":0.2},{"r":11,"c":7,"v":1.2},{"r":11,"c":8,"v":1.2},{"r":11,"c":9,"v":1.2},{"r":11,"c":10,"v":-0.8},{"r":11,"c":11,"v":-0.8},{"r":11,"c":12,"v":-0.6},{"r":11,"c":13,"v":-0.6},{"r":11,"c":14,"v":-0.6},{"r":11,"c":15,"v":-0.7},{"r":11,"c":16,"v":-0.7},{"r":11,"c":17,"v":-0.8},
{"r":12,"c":1,"v":1.3},{"r":12,"c":2,"v":1.4},{"r":12,"c":3,"v":1.4},{"r":12,"c":4,"v":1.7},{"r":12,"c":5,"v":1.4},{"r":12,"c":6,"v":0.4},{"r":12,"c":7,"v":1.2},{"r":12,"c":8,"v":1.1},{"r":12,"c":9,"v":1.2},{"r":12,"c":10,"v":-0.8},{"r":12,"c":11,"v":-0.8},{"r":12,"c":12,"v":-0.7},{"r":12,"c":13,"v":-0.7},{"r":12,"c":14,"v":-0.7},{"r":12,"c":15,"v":-0.7},{"r":12,"c":16,"v":-0.8},{"r":12,"c":17,"v":-0.8},
{"r":13,"c":1,"v":1.5},{"r":13,"c":2,"v":1.5},{"r":13,"c":3,"v":1.3},{"r":13,"c":4,"v":1.3},{"r":13,"c":5,"v":1.3},{"r":13,"c":6,"v":0.9},{"r":13,"c":7,"v":1.2},{"r":13,"c":8,"v":1.2},{"r":13,"c":9,"v":1.2},{"r":13,"c":10,"v":-0.9},{"r":13,"c":11,"v":-0.8},{"r":13,"c":12,"v":-0.7},{"r":13,"c":13,"v":-0.8},{"r":13,"c":14,"v":-0.7},{"r":13,"c":15,"v":-0.7},{"r":13,"c":16,"v":-0.8},{"r":13,"c":17,"v":-0.8},
{"r":14,"c":1,"v":1.6},{"r":14,"c":2,"v":1.5},{"r":14,"c":3,"v":1.3},{"r":14,"c":4,"v":1.3},{"r":14,"c":5,"v":1.4},{"r":14,"c":6,"v":0.8},{"r":14,"c":7,"v":1.2},{"r":14,"c":8,"v":1.1},{"r":14,"c":9,"v":1.2},{"r":14,"c":10,"v":-0.9},{"r":14,"c":11,"v":-0.8},{"r":14,"c":12,"v":-0.2},{"r":14,"c":13,"v":-0.7},{"r":14,"c":14,"v":-0.7},{"r":14,"c":15,"v":-0.8},{"r":14,"c":16,"v":-0.8},{"r":14,"c":17,"v":-0.8},
{"r":15,"c":1,"v":1.3},{"r":15,"c":2,"v":1.4},{"r":15,"c":3,"v":1.3},{"r":15,"c":4,"v":1.3},{"r":15,"c":5,"v":1.3},{"r":15,"c":6,"v":1},{"r":15,"c":7,"v":1.3},{"r":15,"c":8,"v":1.1},{"r":15,"c":9,"v":1.2},{"r":15,"c":10,"v":-0.8},{"r":15,"c":11,"v":-0.8},{"r":15,"c":12,"v":-0.7},{"r":15,"c":13,"v":-0.7},{"r":15,"c":14,"v":-0.7},{"r":15,"c":15,"v":-0.8},{"r":15,"c":16,"v":-0.7},{"r":15,"c":17,"v":-0.8},
{"r":16,"c":1,"v":1.5},{"r":16,"c":2,"v":1.4},{"r":16,"c":3,"v":1.4},{"r":16,"c":4,"v":1.2},{"r":16,"c":5,"v":1.4},{"r":16,"c":6,"v":1.4},{"r":16,"c":7,"v":1.3},{"r":16,"c":8,"v":1.2},{"r":16,"c":9,"v":1.3},{"r":16,"c":10,"v":-0.8},{"r":16,"c":11,"v":-0.7},{"r":16,"c":12,"v":-0.6},{"r":16,"c":13,"v":-0.7},{"r":16,"c":14,"v":-0.7},{"r":16,"c":15,"v":-0.8},{"r":16,"c":16,"v":-0.7},{"r":16,"c":17,"v":-0.8},
{"r":17,"c":1,"v":-0.6},{"r":17,"c":2,"v":-0.6},{"r":17,"c":3,"v":-0.5},{"r":17,"c":4,"v":-0.5},{"r":17,"c":5,"v":-0.5},{"r":17,"c":6,"v":-0.5},{"r":17,"c":7,"v":-0.6},{"r":17,"c":8,"v":-0.6},{"r":17,"c":9,"v":-0.6},{"r":17,"c":10,"v":2.8},{"r":17,"c":11,"v":1.9},{"r":17,"c":12,"v":0.8},{"r":17,"c":13,"v":0.4},{"r":17,"c":14,"v":0.2},{"r":17,"c":15,"v":0.8},{"r":17,"c":16,"v":0.5},{"r":17,"c":17,"v":0.9},
{"r":18,"c":1,"v":-0.6},{"r":18,"c":2,"v":-0.5},{"r":18,"c":3,"v":-0.6},{"r":18,"c":4,"v":-0.5},{"r":18,"c":5,"v":-0.6},{"r":18,"c":6,"v":-0.5},{"r":18,"c":7,"v":-0.6},{"r":18,"c":8,"v":-0.6},{"r":18,"c":9,"v":-0.6},{"r":18,"c":10,"v":2.2},{"r":18,"c":11,"v":2.2},{"r":18,"c":12,"v":0.5},{"r":18,"c":13,"v":0.1},{"r":18,"c":14,"v":0.2},{"r":18,"c":15,"v":0.8},{"r":18,"c":16,"v":0.8},{"r":18,"c":17,"v":1.8},
{"r":19,"c":1,"v":-0.6},{"r":19,"c":2,"v":-0.6},{"r":19,"c":3,"v":-0.7},{"r":19,"c":4,"v":-0.6},{"r":19,"c":5,"v":-0.6},{"r":19,"c":6,"v":-0.6},{"r":19,"c":7,"v":-0.7},{"r":19,"c":8,"v":-0.6},{"r":19,"c":9,"v":-0.6},{"r":19,"c":10,"v":2},{"r":19,"c":11,"v":2.5},{"r":19,"c":12,"v":0.4},{"r":19,"c":13,"v":0},{"r":19,"c":14,"v":0.1},{"r":19,"c":15,"v":0.5},{"r":19,"c":16,"v":1},{"r":19,"c":17,"v":1.6},
{"r":20,"c":1,"v":-0.6},{"r":20,"c":2,"v":-0.6},{"r":20,"c":3,"v":-0.7},{"r":20,"c":4,"v":-0.7},{"r":20,"c":5,"v":-0.7},{"r":20,"c":6,"v":-0.7},{"r":20,"c":7,"v":-0.7},{"r":20,"c":8,"v":-0.7},{"r":20,"c":9,"v":-0.6},{"r":20,"c":10,"v":2},{"r":20,"c":11,"v":2},{"r":20,"c":12,"v":0.7},{"r":20,"c":13,"v":0.4},{"r":20,"c":14,"v":0.3},{"r":20,"c":15,"v":1},{"r":20,"c":16,"v":1.2},{"r":20,"c":17,"v":1.4},
{"r":21,"c":1,"v":-0.7},{"r":21,"c":2,"v":-0.7},{"r":21,"c":3,"v":-0.8},{"r":21,"c":4,"v":-0.8},{"r":21,"c":5,"v":-0.7},{"r":21,"c":6,"v":-0.8},{"r":21,"c":7,"v":-0.7},{"r":21,"c":8,"v":-0.7},{"r":21,"c":9,"v":-0.7},{"r":21,"c":10,"v":2.1},{"r":21,"c":11,"v":2},{"r":21,"c":12,"v":1},{"r":21,"c":13,"v":0.8},{"r":21,"c":14,"v":1},{"r":21,"c":15,"v":1.4},{"r":21,"c":16,"v":1.8},{"r":21,"c":17,"v":1.7},
{"r":22,"c":1,"v":-0.4},{"r":22,"c":2,"v":-0.5},{"r":22,"c":3,"v":-0.5},{"r":22,"c":4,"v":-0.4},{"r":22,"c":5,"v":-0.4},{"r":22,"c":6,"v":-1.6},{"r":22,"c":7,"v":-0.6},{"r":22,"c":8,"v":-0.5},{"r":22,"c":9,"v":-0.6},{"r":22,"c":10,"v":0.9},{"r":22,"c":11,"v":0.6},{"r":22,"c":12,"v":1.4},{"r":22,"c":13,"v":1.3},{"r":22,"c":14,"v":2},{"r":22,"c":15,"v":1.9},{"r":22,"c":16,"v":0.4},{"r":22,"c":17,"v":1.4},
{"r":23,"c":1,"v":-0.6},{"r":23,"c":2,"v":-0.5},{"r":23,"c":3,"v":-0.6},{"r":23,"c":4,"v":-0.5},{"r":23,"c":5,"v":-0.5},{"r":23,"c":6,"v":-1},{"r":23,"c":7,"v":-0.6},{"r":23,"c":8,"v":-0.6},{"r":23,"c":9,"v":-0.6},{"r":23,"c":10,"v":1.2},{"r":23,"c":11,"v":1.4},{"r":23,"c":12,"v":1.6},{"r":23,"c":13,"v":1.7},{"r":23,"c":14,"v":1.9},{"r":23,"c":15,"v":1.6},{"r":23,"c":16,"v":1.3},{"r":23,"c":17,"v":1.2}]},"mark":{"type":"rect","stroke":null},"encoding":{"x":{"field":"c","type":"ordinal","scale":{"domain":[1,2,3,4,5,6,7,8,9,10,11,12,13,14,15,16,17],"range":[646.7,770],"paddingInner":0,"paddingOuter":0},"axis":{"orient":"bottom","offset":-358.3,"title":null,"domain":false,"ticks":false,"labelAngle":90,"labelAlign":"left","labelBaseline":"middle","labelFontSize":3.5,"labelColor":"#333333","labelPadding":2,"labelOverlap":false,"labelBound":false,"labelExpr":"['C_0044247','C_0048196','C_0027280','C_0057312','C_0140205','C_0060169','C_0060587','C_0088070','C_0018805','Xuhou_1','Xuhou_3','Xuhou_8','Xuhou_7','Xuhou_6','Xuhou_2','Xuhou_4','Xuhou_5'][datum.value-1]"}},"y":{"field":"r","type":"ordinal","axis":null,"scale":{"domain":[1,2,3,4,5,6,7,8,9,10,11,12,13,14,15,16,17,18,19,20,21,22,23],"range":[65.7,275.7],"paddingInner":0,"paddingOuter":0}},"color":{"field":"v","type":"quantitative","scale":{"domain":[-3.1,-2,-1,0,1,2,3.1],"range":["#0d1f4f","#2f7f85","#90cc7a","#faf56c","#f58a22","#d81f1c","#8c0a0a"]},"legend":{"orient":"none","legendX":772,"legendY":65,"title":null,"gradientLength":55,"gradientThickness":4,"values":[-3,-2,-1,0,1,2,3],"labelFontSize":6.5,"labelOverlap":false,"labelOffset":2,"padding":0}}}},
{"layer":[
{"data":{"values":[{"a":0.5,"b":1.5,"p":1,"q":1},{"a":0.5,"b":0.5,"p":0,"q":1},{"a":1.5,"b":1.5,"p":0,"q":1},{"a":2.5,"b":3.5,"p":0.8,"q":0.8},{"a":2.5,"b":2.5,"p":0,"q":0.8},{"a":3.5,"b":3.5,"p":0,"q":0.8},{"a":1,"b":3,"p":2,"q":2},{"a":1,"b":1,"p":1,"q":2},{"a":3,"b":3,"p":0.8,"q":2},{"a":4.5,"b":5.5,"p":1,"q":1},{"a":4.5,"b":4.5,"p":0,"q":1},{"a":5.5,"b":5.5,"p":0,"q":1},{"a":6.5,"b":7.5,"p":0.8,"q":0.8},{"a":6.5,"b":6.5,"p":0,"q":0.8},{"a":7.5,"b":7.5,"p":0,"q":0.8},{"a":7,"b":8.5,"p":1.5,"q":1.5},{"a":7,"b":7,"p":0.8,"q":1.5},{"a":8.5,"b":8.5,"p":0,"q":1.5},{"a":5,"b":7.75,"p":2.5,"q":2.5},{"a":5,"b":5,"p":1,"q":2.5},{"a":7.75,"b":7.75,"p":1.5,"q":2.5},{"a":2,"b":6.4,"p":3.8,"q":3.8},{"a":2,"b":2,"p":2,"q":3.8},{"a":6.4,"b":6.4,"p":2.5,"q":3.8},{"a":9.5,"b":10.5,"p":3,"q":3},{"a":9.5,"b":9.5,"p":0,"q":3},{"a":10.5,"b":10.5,"p":0,"q":3},{"a":11.5,"b":12.5,"p":1.5,"q":1.5},{"a":11.5,"b":11.5,"p":0,"q":1.5},{"a":12.5,"b":12.5,"p":0,"q":1.5},{"a":13.5,"b":14.5,"p":1.5,"q":1.5},{"a":13.5,"b":13.5,"p":0,"q":1.5},{"a":14.5,"b":14.5,"p":0,"q":1.5},{"a":15.5,"b":16.5,"p":1.5,"q":1.5},{"a":15.5,"b":15.5,"p":0,"q":1.5},{"a":16.5,"b":16.5,"p":0,"q":1.5},{"a":14,"b":16,"p":2.3,"q":2.3},{"a":14,"b":14,"p":1.5,"q":2.3},{"a":16,"b":16,"p":1.5,"q":2.3},{"a":12,"b":15,"p":3.2,"q":3.2},{"a":12,"b":12,"p":1.5,"q":3.2},{"a":15,"b":15,"p":2.3,"q":3.2},{"a":10,"b":13.5,"p":5.8,"q":5.8},{"a":10,"b":10,"p":3,"q":5.8},{"a":13.5,"b":13.5,"p":3.2,"q":5.8},{"a":4.3,"b":11.4,"p":10,"q":10},{"a":4.3,"b":4.3,"p":3.8,"q":10},{"a":11.4,"b":11.4,"p":5.8,"q":10}]},"mark":{"type":"rule","stroke":"#777777","strokeWidth":0.5},"encoding":{"x":{"field":"a","type":"quantitative","axis":null,"scale":{"domain":[0,17],"range":[646.7,770],"nice":false,"zero":false}},"x2":{"field":"b"},"y":{"field":"p","type":"quantitative","axis":null,"scale":{"domain":[0,10],"range":[65.7,45.7],"nice":false,"zero":false}},"y2":{"field":"q"}}},
{"data":{"values":[{"t":"heatmap_plot"}]},"mark":{"type":"text","align":"center","baseline":"middle","fontSize":8.8,"fontWeight":"bold","color":"#222222"},"encoding":{"x":{"datum":8.5,"type":"quantitative","axis":null},"y":{"datum":12.8,"type":"quantitative","axis":null},"text":{"field":"t"}}}
]},
{"data":{"values":[{"a":1,"b":1,"p":0.5,"q":1.5},{"a":0,"b":1,"p":0.5,"q":0.5},{"a":0,"b":1,"p":1.5,"q":1.5},{"a":1,"b":1,"p":2.5,"q":3.5},{"a":0,"b":1,"p":2.5,"q":2.5},{"a":0,"b":1,"p":3.5,"q":3.5},{"a":2,"b":2,"p":1,"q":3},{"a":1,"b":2,"p":1,"q":1},{"a":1,"b":2,"p":3,"q":3},{"a":1,"b":1,"p":4.5,"q":5.5},{"a":0,"b":1,"p":4.5,"q":4.5},{"a":0,"b":1,"p":5.5,"q":5.5},{"a":1,"b":1,"p":6.5,"q":7.5},{"a":0,"b":1,"p":6.5,"q":6.5},{"a":0,"b":1,"p":7.5,"q":7.5},{"a":2,"b":2,"p":5,"q":7},{"a":1,"b":2,"p":5,"q":5},{"a":1,"b":2,"p":7,"q":7},{"a":1,"b":1,"p":8.5,"q":9.5},{"a":0,"b":1,"p":8.5,"q":8.5},{"a":0,"b":1,"p":9.5,"q":9.5},{"a":1,"b":1,"p":10.5,"q":11.5},{"a":0,"b":1,"p":10.5,"q":10.5},{"a":0,"b":1,"p":11.5,"q":11.5},{"a":2,"b":2,"p":9,"q":11},{"a":1,"b":2,"p":9,"q":9},{"a":1,"b":2,"p":11,"q":11},{"a":1,"b":1,"p":12.5,"q":13.5},{"a":0,"b":1,"p":12.5,"q":12.5},{"a":0,"b":1,"p":13.5,"q":13.5},{"a":1,"b":1,"p":14.5,"q":15.5},{"a":0,"b":1,"p":14.5,"q":14.5},{"a":0,"b":1,"p":15.5,"q":15.5},{"a":2,"b":2,"p":13,"q":15},{"a":1,"b":2,"p":13,"q":13},{"a":1,"b":2,"p":15,"q":15},{"a":3,"b":3,"p":10,"q":14},{"a":2,"b":3,"p":10,"q":10},{"a":2,"b":3,"p":14,"q":14},{"a":4,"b":4,"p":6,"q":12},{"a":2,"b":4,"p":6,"q":6},{"a":3,"b":4,"p":12,"q":12},{"a":6,"b":6,"p":2,"q":9},{"a":2,"b":6,"p":2,"q":2},{"a":4,"b":6,"p":9,"q":9},{"a":1,"b":1,"p":16.5,"q":17.5},{"a":0,"b":1,"p":16.5,"q":16.5},{"a":0,"b":1,"p":17.5,"q":17.5},{"a":1,"b":1,"p":18.5,"q":19.5},{"a":0,"b":1,"p":18.5,"q":18.5},{"a":0,"b":1,"p":19.5,"q":19.5},{"a":2,"b":2,"p":17,"q":19},{"a":1,"b":2,"p":17,"q":17},{"a":1,"b":2,"p":19,"q":19},{"a":1,"b":1,"p":20.5,"q":21.5},{"a":0,"b":1,"p":20.5,"q":20.5},{"a":0,"b":1,"p":21.5,"q":21.5},{"a":1.5,"b":1.5,"p":21,"q":22.5},{"a":1,"b":1.5,"p":21,"q":21},{"a":0,"b":1.5,"p":22.5,"q":22.5},{"a":5,"b":5,"p":18,"q":21.5},{"a":2,"b":5,"p":18,"q":18},{"a":1.5,"b":5,"p":21.5,"q":21.5},{"a":10,"b":10,"p":5.5,"q":19.8},{"a":6,"b":10,"p":5.5,"q":5.5},{"a":5,"b":10,"p":19.8,"q":19.8}]},"mark":{"type":"rule","stroke":"#777777","strokeWidth":0.5},"encoding":{"x":{"field":"a","type":"quantitative","axis":null,"scale":{"domain":[0,10],"range":[646.7,628],"nice":false,"zero":false}},"x2":{"field":"b"},"y":{"field":"p","type":"quantitative","axis":null,"scale":{"domain":[0,23],"range":[65.7,275.7],"nice":false,"zero":false}},"y2":{"field":"q"}}},
{"layer":[
{"data":{"values":[{"v":-2},{"v":-1},{"v":0},{"v":1},{"v":2}]},"mark":{"type":"rule","stroke":"#eeeeee","strokeWidth":0.4},"encoding":{"x":{"field":"v","type":"quantitative","axis":null,"scale":{"domain":[-2.65,2.63],"range":[209.3,358.7],"nice":false,"zero":false}},"y":{"datum":-0.59,"type":"quantitative","axis":null,"scale":{"domain":[-0.59,13.56],"range":[550.7,413.7],"nice":false,"zero":false}},"y2":{"datum":13.56}}},
{"data":{"values":[{"v":1.3},{"v":5},{"v":10}]},"mark":{"type":"rule","stroke":"#eeeeee","strokeWidth":0.4},"encoding":{"y":{"field":"v","type":"quantitative","axis":null},"x":{"datum":-2.65,"type":"quantitative","axis":null},"x2":{"datum":2.63}}},
{"data":{"values":[{"x":0,"y":0.1},{"x":0.01,"y":0.3},{"x":-0.03,"y":0.5},{"x":0.03,"y":0.5},{"x":-0.05,"y":0.8},{"x":0.06,"y":0.8},{"x":-0.08,"y":1.1},{"x":0,"y":1.1},{"x":0.08,"y":1.1},{"x":-0.1,"y":1.4},{"x":0.02,"y":1.4},{"x":0.1,"y":1.4},{"x":-0.07,"y":1.7},{"x":0.04,"y":1.7},{"x":0.13,"y":1.7},{"x":-0.12,"y":2},{"x":-0.02,"y":2},{"x":0.09,"y":2},{"x":-0.08,"y":2.3},{"x":0.04,"y":2.3},{"x":0.15,"y":2.3},{"x":-0.14,"y":2.6},{"x":-0.03,"y":2.6},{"x":0.08,"y":2.6},{"x":-0.09,"y":2.9},{"x":0.02,"y":2.9},{"x":0.13,"y":2.9},{"x":-0.15,"y":3.2},{"x":-0.05,"y":3.2},{"x":0.07,"y":3.2},{"x":-0.1,"y":3.5},{"x":0.01,"y":3.5},{"x":0.12,"y":3.5},{"x":-0.17,"y":3.8},{"x":-0.06,"y":3.8},{"x":0.05,"y":3.8},{"x":-0.11,"y":4.1},{"x":0,"y":4.1},{"x":0.1,"y":4.1},{"x":-0.2,"y":4.4},{"x":-0.08,"y":4.4},{"x":0.03,"y":4.4},{"x":-0.14,"y":4.7},{"x":-0.03,"y":4.7},{"x":0.08,"y":4.7},{"x":-0.2,"y":5},{"x":-0.09,"y":5},{"x":0.02,"y":5},{"x":-0.14,"y":5.3},{"x":-0.04,"y":5.3},{"x":0.06,"y":5.3},{"x":-0.19,"y":5.6},{"x":-0.09,"y":5.6},{"x":0.01,"y":5.6},{"x":-0.13,"y":5.9},{"x":-0.04,"y":5.9},{"x":-0.18,"y":6.2},{"x":-0.08,"y":6.2},{"x":0,"y":6.2},{"x":-0.15,"y":6.6},{"x":-0.05,"y":6.6},{"x":-0.17,"y":7},{"x":-0.08,"y":7},{"x":-0.13,"y":7.4},{"x":-0.04,"y":7.4},{"x":-0.15,"y":7.8},{"x":-0.07,"y":7.8},{"x":-0.1,"y":8.3},{"x":-0.12,"y":8.8}]},"mark":{"type":"circle","size":12,"color":"#c6c6c6","opacity":1},"encoding":{"x":{"field":"x","type":"quantitative","axis":{"orient":"bottom","offset":-83.3,"values":[-2,-1,-0.263,0.263,1,2],"format":"~g","title":"log2 FoldChange","titleFontSize":3.5,"titleFontWeight":"normal","titlePadding":2,"labelFontSize":3,"labelOverlap":false,"tickSize":1,"tickWidth":0.3,"labelPadding":1,"domain":false,"grid":false}},"y":{"field":"y","type":"quantitative","axis":{"orient":"left","offset":-209.3,"values":[1.3,5,10],"title":"-log10 P-Value","titleFontSize":3.5,"titleFontWeight":"normal","titlePadding":3,"labelFontSize":3,"labelOverlap":false,"tickSize":1,"tickWidth":0.3,"labelPadding":1,"domain":false,"grid":false}}}},
{"data":{"values":[{"x":-0.19,"y":12.7,"g":"n"},{"x":-0.21,"y":12,"g":"n"},{"x":-0.28,"y":11.2,"g":"n"},{"x":-0.39,"y":10,"g":"n"},{"x":-0.27,"y":10,"g":"n"},{"x":-0.15,"y":10.2,"g":"n"},{"x":-0.07,"y":10,"g":"n"},{"x":-0.12,"y":9,"g":"n"},{"x":-0.03,"y":8.5,"g":"n"},{"x":0.03,"y":7.8,"g":"n"},{"x":0.09,"y":7.1,"g":"n"},{"x":0,"y":8.1,"g":"n"},{"x":0.15,"y":6.2,"g":"n"},{"x":0.15,"y":5.2,"g":"n"},{"x":0.12,"y":3.8,"g":"n"},{"x":0.2,"y":3.1,"g":"n"},{"x":0.15,"y":1.7,"g":"n"},{"x":-0.45,"y":8.8,"g":"d"},{"x":-0.39,"y":9.2,"g":"d"},{"x":-0.48,"y":8.6,"g":"d"},{"x":-0.27,"y":8.3,"g":"d"},{"x":-0.21,"y":8.1,"g":"d"},{"x":-0.29,"y":7.95,"g":"d"},{"x":-0.33,"y":6.9,"g":"d"},{"x":-0.23,"y":7.1,"g":"d"},{"x":-0.29,"y":6.5,"g":"d"},{"x":-0.15,"y":6.8,"g":"d"},{"x":-0.3,"y":6.1,"g":"d"},{"x":-0.34,"y":5.7,"g":"d"},{"x":-0.21,"y":5.5,"g":"d"},{"x":-0.33,"y":4.9,"g":"d"},{"x":-0.21,"y":4.3,"g":"d"},{"x":0.59,"y":12.9,"g":"u"},{"x":0.51,"y":12,"g":"u"},{"x":0.38,"y":10.7,"g":"u"},{"x":0.47,"y":9.9,"g":"u"},{"x":0.4,"y":9.5,"g":"u"},{"x":0.64,"y":9.2,"g":"u"},{"x":0.32,"y":8.8,"g":"u"},{"x":0.4,"y":8.6,"g":"u"},{"x":0.36,"y":7.95,"g":"u"},{"x":0.5,"y":7.5,"g":"u"},{"x":0.38,"y":7.3,"g":"u"},{"x":0.2,"y":6.8,"g":"u"},{"x":0.53,"y":6.8,"g":"u"},{"x":0.65,"y":6.4,"g":"u"},{"x":0.28,"y":6.1,"g":"u"},{"x":0.43,"y":5.9,"g":"u"},{"x":0.24,"y":5.3,"g":"u"},{"x":0.46,"y":5.1,"g":"u"},{"x":0.32,"y":4.9,"g":"u"},{"x":0.26,"y":4.4,"g":"u"},{"x":0.5,"y":4.1,"g":"u"},{"x":0.24,"y":3.98,"g":"u"},{"x":0.2,"y":2.5,"g":"u"},{"x":0.24,"y":2,"g":"u"}]},"mark":{"type":"circle","size":2.5,"opacity":1},"encoding":{"x":{"field":"x","type":"quantitative","axis":null},"y":{"field":"y","type":"quantitative","axis":null},"color":{"field":"g","type":"nominal","legend":null,"scale":{"domain":["n","d","u"],"range":["#bdbdbd","#7fb7a0","#c0504d"]}}}},
{"data":{"values":[{}]},"mark":{"type":"rect","filled":false,"stroke":"#555555","strokeWidth":1},"encoding":{"x":{"datum":-2.65,"type":"quantitative","axis":null},"x2":{"datum":2.63},"y":{"datum":-0.59,"type":"quantitative","axis":null},"y2":{"datum":13.56}}},
{"data":{"values":[{"t":"XZ_VS_ZO"}]},"mark":{"type":"text","align":"left","baseline":"middle","fontSize":3.5,"color":"#333333"},"encoding":{"x":{"datum":-2.65,"type":"quantitative","axis":null},"y":{"datum":13.84,"type":"quantitative","axis":null},"text":{"field":"t"}}},
{"data":{"values":[{"t":"c"}]},"mark":{"type":"text","align":"left","baseline":"middle","fontSize":16,"fontWeight":"bold","color":"#111111"},"encoding":{"x":{"datum":-2.544,"type":"quantitative","axis":null},"y":{"datum":21.49,"type":"quantitative","axis":null},"text":{"field":"t"}}},
{"data":{"values":[{"t":"blood-dryness syndrome VS healthy controls"}]},"mark":{"type":"text","align":"left","baseline":"middle","fontSize":11.5,"fontWeight":"bold","color":"#111111"},"encoding":{"x":{"datum":-1.717,"type":"quantitative","axis":null},"y":{"datum":21.49,"type":"quantitative","axis":null},"text":{"field":"t"}}}
]},
{"data":{"values":[{"r":1,"c":1,"v":2},{"r":1,"c":2,"v":2.1},{"r":1,"c":3,"v":1.3},{"r":1,"c":4,"v":1.7},{"r":1,"c":5,"v":1.2},{"r":1,"c":6,"v":1},{"r":1,"c":7,"v":1},{"r":1,"c":8,"v":0.9},{"r":1,"c":9,"v":-1.2},{"r":1,"c":10,"v":0.1},{"r":1,"c":11,"v":-0.3},{"r":1,"c":12,"v":-0.3},{"r":1,"c":13,"v":-0.6},{"r":1,"c":14,"v":-0.9},{"r":1,"c":15,"v":-1},{"r":1,"c":16,"v":-0.3},{"r":1,"c":17,"v":-0.9},{"r":1,"c":18,"v":-0.6},{"r":1,"c":19,"v":-0.7},
{"r":2,"c":1,"v":2.1},{"r":2,"c":2,"v":2},{"r":2,"c":3,"v":1},{"r":2,"c":4,"v":1.6},{"r":2,"c":5,"v":1.3},{"r":2,"c":6,"v":1.1},{"r":2,"c":7,"v":0.9},{"r":2,"c":8,"v":1},{"r":2,"c":9,"v":-0.8},{"r":2,"c":10,"v":0.1},{"r":2,"c":11,"v":-0.4},{"r":2,"c":12,"v":-0.4},{"r":2,"c":13,"v":-0.5},{"r":2,"c":14,"v":-1},{"r":2,"c":15,"v":-1.1},{"r":2,"c":16,"v":-0.3},{"r":2,"c":17,"v":-0.8},{"r":2,"c":18,"v":-0.5},{"r":2,"c":19,"v":-0.7},
{"r":3,"c":1,"v":2.1},{"r":3,"c":2,"v":2.2},{"r":3,"c":3,"v":0.6},{"r":3,"c":4,"v":1.5},{"r":3,"c":5,"v":1.2},{"r":3,"c":6,"v":1},{"r":3,"c":7,"v":1},{"r":3,"c":8,"v":1},{"r":3,"c":9,"v":-0.7},{"r":3,"c":10,"v":0},{"r":3,"c":11,"v":-0.4},{"r":3,"c":12,"v":-0.5},{"r":3,"c":13,"v":-0.6},{"r":3,"c":14,"v":-1.1},{"r":3,"c":15,"v":-1},{"r":3,"c":16,"v":-0.4},{"r":3,"c":17,"v":-0.9},{"r":3,"c":18,"v":-0.6},{"r":3,"c":19,"v":-0.8},
{"r":4,"c":1,"v":2},{"r":4,"c":2,"v":2.1},{"r":4,"c":3,"v":1.1},{"r":4,"c":4,"v":1.6},{"r":4,"c":5,"v":1.3},{"r":4,"c":6,"v":1.3},{"r":4,"c":7,"v":1},{"r":4,"c":8,"v":0.9},{"r":4,"c":9,"v":-0.6},{"r":4,"c":10,"v":0},{"r":4,"c":11,"v":-0.3},{"r":4,"c":12,"v":-0.4},{"r":4,"c":13,"v":-0.6},{"r":4,"c":14,"v":-1},{"r":4,"c":15,"v":-0.9},{"r":4,"c":16,"v":-0.2},{"r":4,"c":17,"v":-0.8},{"r":4,"c":18,"v":-0.7},{"r":4,"c":19,"v":-0.7},
{"r":5,"c":1,"v":2.2},{"r":5,"c":2,"v":2},{"r":5,"c":3,"v":1.2},{"r":5,"c":4,"v":1.5},{"r":5,"c":5,"v":1.2},{"r":5,"c":6,"v":1.1},{"r":5,"c":7,"v":0.9},{"r":5,"c":8,"v":1},{"r":5,"c":9,"v":-0.5},{"r":5,"c":10,"v":-0.1},{"r":5,"c":11,"v":-0.4},{"r":5,"c":12,"v":-0.5},{"r":5,"c":13,"v":-0.6},{"r":5,"c":14,"v":-1},{"r":5,"c":15,"v":-0.8},{"r":5,"c":16,"v":-0.3},{"r":5,"c":17,"v":-0.9},{"r":5,"c":18,"v":-0.6},{"r":5,"c":19,"v":-0.7},
{"r":6,"c":1,"v":2.1},{"r":6,"c":2,"v":2.1},{"r":6,"c":3,"v":1.2},{"r":6,"c":4,"v":1.3},{"r":6,"c":5,"v":1.3},{"r":6,"c":6,"v":1.3},{"r":6,"c":7,"v":1.1},{"r":6,"c":8,"v":0.9},{"r":6,"c":9,"v":-0.6},{"r":6,"c":10,"v":-0.2},{"r":6,"c":11,"v":-0.5},{"r":6,"c":12,"v":-0.5},{"r":6,"c":13,"v":-0.7},{"r":6,"c":14,"v":-1},{"r":6,"c":15,"v":-0.9},{"r":6,"c":16,"v":-0.2},{"r":6,"c":17,"v":-0.8},{"r":6,"c":18,"v":-0.6},{"r":6,"c":19,"v":-0.8},
{"r":7,"c":1,"v":2},{"r":7,"c":2,"v":2.2},{"r":7,"c":3,"v":1.1},{"r":7,"c":4,"v":1.5},{"r":7,"c":5,"v":1.1},{"r":7,"c":6,"v":1.2},{"r":7,"c":7,"v":1},{"r":7,"c":8,"v":1},{"r":7,"c":9,"v":-0.6},{"r":7,"c":10,"v":0},{"r":7,"c":11,"v":-0.4},{"r":7,"c":12,"v":-0.5},{"r":7,"c":13,"v":-0.6},{"r":7,"c":14,"v":-1.2},{"r":7,"c":15,"v":-1},{"r":7,"c":16,"v":-0.3},{"r":7,"c":17,"v":-0.9},{"r":7,"c":18,"v":-0.6},{"r":7,"c":19,"v":-0.7},
{"r":8,"c":1,"v":2.1},{"r":8,"c":2,"v":2.1},{"r":8,"c":3,"v":1.3},{"r":8,"c":4,"v":1.6},{"r":8,"c":5,"v":1.2},{"r":8,"c":6,"v":1},{"r":8,"c":7,"v":1.2},{"r":8,"c":8,"v":1.1},{"r":8,"c":9,"v":-0.5},{"r":8,"c":10,"v":0.1},{"r":8,"c":11,"v":-0.4},{"r":8,"c":12,"v":-0.4},{"r":8,"c":13,"v":-0.6},{"r":8,"c":14,"v":-1.1},{"r":8,"c":15,"v":-0.9},{"r":8,"c":16,"v":-0.4},{"r":8,"c":17,"v":-0.8},{"r":8,"c":18,"v":-0.6},{"r":8,"c":19,"v":-0.7},
{"r":9,"c":1,"v":2.2},{"r":9,"c":2,"v":1.9},{"r":9,"c":3,"v":1.4},{"r":9,"c":4,"v":1.7},{"r":9,"c":5,"v":1.4},{"r":9,"c":6,"v":1.3},{"r":9,"c":7,"v":1},{"r":9,"c":8,"v":0.8},{"r":9,"c":9,"v":0.9},{"r":9,"c":10,"v":0.8},{"r":9,"c":11,"v":-0.2},{"r":9,"c":12,"v":-0.5},{"r":9,"c":13,"v":-0.5},{"r":9,"c":14,"v":-1.4},{"r":9,"c":15,"v":-0.7},{"r":9,"c":16,"v":-0.4},{"r":9,"c":17,"v":-0.7},{"r":9,"c":18,"v":-0.5},{"r":9,"c":19,"v":-0.7},
{"r":10,"c":1,"v":1.4},{"r":10,"c":2,"v":1.3},{"r":10,"c":3,"v":1.5},{"r":10,"c":4,"v":1.9},{"r":10,"c":5,"v":1.2},{"r":10,"c":6,"v":1.8},{"r":10,"c":7,"v":1.2},{"r":10,"c":8,"v":1.1},{"r":10,"c":9,"v":-0.1},{"r":10,"c":10,"v":0.3},{"r":10,"c":11,"v":-0.5},{"r":10,"c":12,"v":-0.6},{"r":10,"c":13,"v":-0.4},{"r":10,"c":14,"v":-1},{"r":10,"c":15,"v":-0.9},{"r":10,"c":16,"v":-1.1},{"r":10,"c":17,"v":-0.8},{"r":10,"c":18,"v":-0.6},{"r":10,"c":19,"v":-0.6},
{"r":11,"c":1,"v":1.6},{"r":11,"c":2,"v":1.3},{"r":11,"c":3,"v":1.3},{"r":11,"c":4,"v":1.8},{"r":11,"c":5,"v":1.1},{"r":11,"c":6,"v":1.7},{"r":11,"c":7,"v":1},{"r":11,"c":8,"v":1.3},{"r":11,"c":9,"v":-0.2},{"r":11,"c":10,"v":0.2},{"r":11,"c":11,"v":0.2},{"r":11,"c":12,"v":-0.1},{"r":11,"c":13,"v":-0.3},{"r":11,"c":14,"v":-1.1},{"r":11,"c":15,"v":-1},{"r":11,"c":16,"v":-0.8},{"r":11,"c":17,"v":-0.6},{"r":11,"c":18,"v":-0.6},{"r":11,"c":19,"v":-0.7},
{"r":12,"c":1,"v":-1},{"r":12,"c":2,"v":-0.9},{"r":12,"c":3,"v":-0.7},{"r":12,"c":4,"v":-1},{"r":12,"c":5,"v":-0.9},{"r":12,"c":6,"v":-0.7},{"r":12,"c":7,"v":-0.5},{"r":12,"c":8,"v":-0.6},{"r":12,"c":9,"v":0},{"r":12,"c":10,"v":-0.2},{"r":12,"c":11,"v":0.8},{"r":12,"c":12,"v":0.4},{"r":12,"c":13,"v":2.3},{"r":12,"c":14,"v":2.4},{"r":12,"c":15,"v":2.2},{"r":12,"c":16,"v":1.2},{"r":12,"c":17,"v":0.9},{"r":12,"c":18,"v":0.5},{"r":12,"c":19,"v":0.5},
{"r":13,"c":1,"v":-1},{"r":13,"c":2,"v":-1},{"r":13,"c":3,"v":-1.1},{"r":13,"c":4,"v":-0.9},{"r":13,"c":5,"v":-1},{"r":13,"c":6,"v":-0.9},{"r":13,"c":7,"v":-0.9},{"r":13,"c":8,"v":-0.9},{"r":13,"c":9,"v":0.2},{"r":13,"c":10,"v":0.1},{"r":13,"c":11,"v":0.9},{"r":13,"c":12,"v":0.3},{"r":13,"c":13,"v":2.2},{"r":13,"c":14,"v":1.6},{"r":13,"c":15,"v":2.3},{"r":13,"c":16,"v":1.2},{"r":13,"c":17,"v":1.1},{"r":13,"c":18,"v":1},{"r":13,"c":19,"v":1},
{"r":14,"c":1,"v":-1},{"r":14,"c":2,"v":-1},{"r":14,"c":3,"v":-1},{"r":14,"c":4,"v":-1},{"r":14,"c":5,"v":-0.9},{"r":14,"c":6,"v":-1},{"r":14,"c":7,"v":-0.9},{"r":14,"c":8,"v":-0.9},{"r":14,"c":9,"v":0.1},{"r":14,"c":10,"v":0.1},{"r":14,"c":11,"v":0.6},{"r":14,"c":12,"v":0.3},{"r":14,"c":13,"v":2.3},{"r":14,"c":14,"v":1.5},{"r":14,"c":15,"v":2.2},{"r":14,"c":16,"v":1.3},{"r":14,"c":17,"v":1},{"r":14,"c":18,"v":1.1},{"r":14,"c":19,"v":1},
{"r":15,"c":1,"v":-0.9},{"r":15,"c":2,"v":-1},{"r":15,"c":3,"v":-1.1},{"r":15,"c":4,"v":-1},{"r":15,"c":5,"v":-1},{"r":15,"c":6,"v":-0.9},{"r":15,"c":7,"v":-1},{"r":15,"c":8,"v":-0.9},{"r":15,"c":9,"v":0},{"r":15,"c":10,"v":0.2},{"r":15,"c":11,"v":0.9},{"r":15,"c":12,"v":0.2},{"r":15,"c":13,"v":2.2},{"r":15,"c":14,"v":1.7},{"r":15,"c":15,"v":2.3},{"r":15,"c":16,"v":1.3},{"r":15,"c":17,"v":1.1},{"r":15,"c":18,"v":1},{"r":15,"c":19,"v":0.9},
{"r":16,"c":1,"v":-0.9},{"r":16,"c":2,"v":-1},{"r":16,"c":3,"v":-0.9},{"r":16,"c":4,"v":-1},{"r":16,"c":5,"v":-1},{"r":16,"c":6,"v":-1},{"r":16,"c":7,"v":-1},{"r":16,"c":8,"v":-1},{"r":16,"c":9,"v":0},{"r":16,"c":10,"v":0.1},{"r":16,"c":11,"v":0.4},{"r":16,"c":12,"v":0.6},{"r":16,"c":13,"v":2.3},{"r":16,"c":14,"v":1.5},{"r":16,"c":15,"v":2.2},{"r":16,"c":16,"v":0.8},{"r":16,"c":17,"v":0.5},{"r":16,"c":18,"v":1.4},{"r":16,"c":19,"v":1.3},
{"r":17,"c":1,"v":-0.8},{"r":17,"c":2,"v":-0.8},{"r":17,"c":3,"v":-0.9},{"r":17,"c":4,"v":-0.8},{"r":17,"c":5,"v":-0.9},{"r":17,"c":6,"v":-0.9},{"r":17,"c":7,"v":-0.9},{"r":17,"c":8,"v":-0.8},{"r":17,"c":9,"v":0.1},{"r":17,"c":10,"v":0.1},{"r":17,"c":11,"v":0.1},{"r":17,"c":12,"v":0.3},{"r":17,"c":13,"v":0.2},{"r":17,"c":14,"v":0.8},{"r":17,"c":15,"v":2.2},{"r":17,"c":16,"v":0.5},{"r":17,"c":17,"v":0.6},{"r":17,"c":18,"v":2.2},{"r":17,"c":19,"v":1.5},
{"r":18,"c":1,"v":-0.7},{"r":18,"c":2,"v":-0.7},{"r":18,"c":3,"v":-0.8},{"r":18,"c":4,"v":-0.8},{"r":18,"c":5,"v":-0.7},{"r":18,"c":6,"v":-0.9},{"r":18,"c":7,"v":-0.8},{"r":18,"c":8,"v":-0.8},{"r":18,"c":9,"v":0.9},{"r":18,"c":10,"v":1},{"r":18,"c":11,"v":0.3},{"r":18,"c":12,"v":0.3},{"r":18,"c":13,"v":1.6},{"r":18,"c":14,"v":0.2},{"r":18,"c":15,"v":1.5},{"r":18,"c":16,"v":1.7},{"r":18,"c":17,"v":1.6},{"r":18,"c":18,"v":2.1},{"r":18,"c":19,"v":1.7},
{"r":19,"c":1,"v":-0.9},{"r":19,"c":2,"v":-1},{"r":19,"c":3,"v":-0.9},{"r":19,"c":4,"v":-0.9},{"r":19,"c":5,"v":-1},{"r":19,"c":6,"v":-0.9},{"r":19,"c":7,"v":-1},{"r":19,"c":8,"v":-0.9},{"r":19,"c":9,"v":0.3},{"r":19,"c":10,"v":1.1},{"r":19,"c":11,"v":0.1},{"r":19,"c":12,"v":0.1},{"r":19,"c":13,"v":1.2},{"r":19,"c":14,"v":0.6},{"r":19,"c":15,"v":1.4},{"r":19,"c":16,"v":1.4},{"r":19,"c":17,"v":1.2},{"r":19,"c":18,"v":2.2},{"r":19,"c":19,"v":1.9},
{"r":20,"c":1,"v":-1},{"r":20,"c":2,"v":-1},{"r":20,"c":3,"v":-0.9},{"r":20,"c":4,"v":-1},{"r":20,"c":5,"v":-1},{"r":20,"c":6,"v":-1},{"r":20,"c":7,"v":-1},{"r":20,"c":8,"v":-0.9},{"r":20,"c":9,"v":0.3},{"r":20,"c":10,"v":1.2},{"r":20,"c":11,"v":0.2},{"r":20,"c":12,"v":0.2},{"r":20,"c":13,"v":1.2},{"r":20,"c":14,"v":0.7},{"r":20,"c":15,"v":1.4},{"r":20,"c":16,"v":1.3},{"r":20,"c":17,"v":1.1},{"r":20,"c":18,"v":1.8},{"r":20,"c":19,"v":1.3},
{"r":21,"c":1,"v":-1},{"r":21,"c":2,"v":-1.1},{"r":21,"c":3,"v":-1.1},{"r":21,"c":4,"v":-1},{"r":21,"c":5,"v":-1},{"r":21,"c":6,"v":-1},{"r":21,"c":7,"v":-0.9},{"r":21,"c":8,"v":-0.9},{"r":21,"c":9,"v":0.4},{"r":21,"c":10,"v":1.2},{"r":21,"c":11,"v":0.6},{"r":21,"c":12,"v":0.5},{"r":21,"c":13,"v":1.5},{"r":21,"c":14,"v":1.1},{"r":21,"c":15,"v":1.3},{"r":21,"c":16,"v":1.4},{"r":21,"c":17,"v":1},{"r":21,"c":18,"v":2},{"r":21,"c":19,"v":1.1},
{"r":22,"c":1,"v":-1},{"r":22,"c":2,"v":-1.2},{"r":22,"c":3,"v":-1},{"r":22,"c":4,"v":-1},{"r":22,"c":5,"v":-0.9},{"r":22,"c":6,"v":-1},{"r":22,"c":7,"v":-1},{"r":22,"c":8,"v":-0.9},{"r":22,"c":9,"v":0.4},{"r":22,"c":10,"v":1},{"r":22,"c":11,"v":0.7},{"r":22,"c":12,"v":0.6},{"r":22,"c":13,"v":1.8},{"r":22,"c":14,"v":1.3},{"r":22,"c":15,"v":1.3},{"r":22,"c":16,"v":1.2},{"r":22,"c":17,"v":1},{"r":22,"c":18,"v":1.6},{"r":22,"c":19,"v":1.1},
{"r":23,"c":1,"v":0.4},{"r":23,"c":2,"v":1.1},{"r":23,"c":3,"v":0.2},{"r":23,"c":4,"v":0.1},{"r":23,"c":5,"v":-0.2},{"r":23,"c":6,"v":-0.4},{"r":23,"c":7,"v":0.1},{"r":23,"c":8,"v":0.3},{"r":23,"c":9,"v":2.4},{"r":23,"c":10,"v":0.6},{"r":23,"c":11,"v":0.4},{"r":23,"c":12,"v":1.6},{"r":23,"c":13,"v":0.5},{"r":23,"c":14,"v":0.9},{"r":23,"c":15,"v":0.1},{"r":23,"c":16,"v":-0.3},{"r":23,"c":17,"v":0.3},{"r":23,"c":18,"v":1},{"r":23,"c":19,"v":-0.7},
{"r":24,"c":1,"v":-0.6},{"r":24,"c":2,"v":-0.8},{"r":24,"c":3,"v":-0.6},{"r":24,"c":4,"v":-0.7},{"r":24,"c":5,"v":0.7},{"r":24,"c":6,"v":-0.5},{"r":24,"c":7,"v":-0.3},{"r":24,"c":8,"v":0.5},{"r":24,"c":9,"v":1.5},{"r":24,"c":10,"v":0.9},{"r":24,"c":11,"v":2},{"r":24,"c":12,"v":0.8},{"r":24,"c":13,"v":1.3},{"r":24,"c":14,"v":2.8},{"r":24,"c":15,"v":2},{"r":24,"c":16,"v":0.4},{"r":24,"c":17,"v":2.2},{"r":24,"c":18,"v":0.6},{"r":24,"c":19,"v":-0.5}]},"mark":{"type":"rect","stroke":null},"encoding":{"x":{"field":"c","type":"ordinal","scale":{"domain":[1,2,3,4,5,6,7,8,9,10,11,12,13,14,15,16,17,18,19],"range":[415.3,542.3],"paddingInner":0,"paddingOuter":0},"axis":{"orient":"bottom","offset":-42.7,"title":null,"domain":false,"ticks":false,"labelAngle":90,"labelAlign":"left","labelBaseline":"middle","labelFontSize":3.5,"labelColor":"#333333","labelPadding":2,"labelOverlap":false,"labelBound":false,"labelExpr":"['C_0044007','C_0062648','C_0027260','C_0058044','C_0036741','C_0140213','C_0183750','C_0052897','Isoform7_52440029','Isoform1_00398704','Isoform2_00080000','Isoform6_00080045','Isoform3_00088047','Isoform4_00019538','Isoform8_00092187','Isoform9_00008884','Isoform5_00082061','Isoform10_00010217','Isoform11_00086065'][datum.value-1]"}},"y":{"field":"r","type":"ordinal","axis":null,"scale":{"domain":[1,2,3,4,5,6,7,8,9,10,11,12,13,14,15,16,17,18,19,20,21,22,23,24],"range":[390,591.3],"paddingInner":0,"paddingOuter":0}},"color":{"field":"v","type":"quantitative","scale":{"domain":[-3.4,-2,-1,0,1,2,3.4],"range":["#0d1f4f","#2f7f85","#90cc7a","#faf56c","#f58a22","#d81f1c","#8c0a0a"]},"legend":{"orient":"none","legendX":543.7,"legendY":390.7,"title":null,"gradientLength":56.6,"gradientThickness":4,"values":[-3,-2,-1,0,1,2,3],"labelFontSize":6.5,"labelOverlap":false,"labelOffset":2,"padding":0}}}},
{"layer":[
{"data":{"values":[{"a":0.5,"b":1.5,"p":1.5,"q":1.5},{"a":0.5,"b":0.5,"p":0,"q":1.5},{"a":1.5,"b":1.5,"p":0,"q":1.5},{"a":2.5,"b":3.5,"p":1.5,"q":1.5},{"a":2.5,"b":2.5,"p":0,"q":1.5},{"a":3.5,"b":3.5,"p":0,"q":1.5},{"a":4.5,"b":5.5,"p":0.8,"q":0.8},{"a":4.5,"b":4.5,"p":0,"q":0.8},{"a":5.5,"b":5.5,"p":0,"q":0.8},{"a":6.5,"b":7.5,"p":0.8,"q":0.8},{"a":6.5,"b":6.5,"p":0,"q":0.8},{"a":7.5,"b":7.5,"p":0,"q":0.8},{"a":5,"b":7,"p":1.5,"q":1.5},{"a":5,"b":5,"p":0.8,"q":1.5},{"a":7,"b":7,"p":0.8,"q":1.5},{"a":3,"b":6,"p":2.3,"q":2.3},{"a":3,"b":3,"p":1.5,"q":2.3},{"a":6,"b":6,"p":1.5,"q":2.3},{"a":1,"b":4.5,"p":3.5,"q":3.5},{"a":1,"b":1,"p":1.5,"q":3.5},{"a":4.5,"b":4.5,"p":2.3,"q":3.5},{"a":8.5,"b":9.5,"p":2.5,"q":2.5},{"a":8.5,"b":8.5,"p":0,"q":2.5},{"a":9.5,"b":9.5,"p":0,"q":2.5},{"a":10.5,"b":11.5,"p":1,"q":1},{"a":10.5,"b":10.5,"p":0,"q":1},{"a":11.5,"b":11.5,"p":0,"q":1},{"a":9,"b":11,"p":3.5,"q":3.5},{"a":9,"b":9,"p":2.5,"q":3.5},{"a":11,"b":11,"p":1,"q":3.5},{"a":12.5,"b":13.5,"p":1.5,"q":1.5},{"a":12.5,"b":12.5,"p":0,"q":1.5},{"a":13.5,"b":13.5,"p":0,"q":1.5},{"a":14.5,"b":15.5,"p":1,"q":1},{"a":14.5,"b":14.5,"p":0,"q":1},{"a":15.5,"b":15.5,"p":0,"q":1},{"a":16.5,"b":17.5,"p":0.8,"q":0.8},{"a":16.5,"b":16.5,"p":0,"q":0.8},{"a":17.5,"b":17.5,"p":0,"q":0.8},{"a":17,"b":18.5,"p":1.2,"q":1.2},{"a":17,"b":17,"p":0.8,"q":1.2},{"a":18.5,"b":18.5,"p":0,"q":1.2},{"a":15,"b":17.75,"p":2,"q":2},{"a":15,"b":15,"p":1,"q":2},{"a":17.75,"b":17.75,"p":1.2,"q":2},{"a":13,"b":16.4,"p":3.2,"q":3.2},{"a":13,"b":13,"p":1.5,"q":3.2},{"a":16.4,"b":16.4,"p":2,"q":3.2},{"a":10,"b":14.7,"p":6.5,"q":6.5},{"a":10,"b":10,"p":3.5,"q":6.5},{"a":14.7,"b":14.7,"p":3.2,"q":6.5},{"a":2.45,"b":11.6,"p":10,"q":10},{"a":2.45,"b":2.45,"p":3.5,"q":10},{"a":11.6,"b":11.6,"p":6.5,"q":10}]},"mark":{"type":"rule","stroke":"#777777","strokeWidth":0.5},"encoding":{"x":{"field":"a","type":"quantitative","axis":null,"scale":{"domain":[0,19],"range":[415.3,542.3],"nice":false,"zero":false}},"x2":{"field":"b"},"y":{"field":"p","type":"quantitative","axis":null,"scale":{"domain":[0,10],"range":[390,370],"nice":false,"zero":false}},"y2":{"field":"q"}}},
{"data":{"values":[{"t":"heatmap_plot"}]},"mark":{"type":"text","align":"center","baseline":"middle","fontSize":8.8,"fontWeight":"bold","color":"#222222"},"encoding":{"x":{"datum":9.55,"type":"quantitative","axis":null},"y":{"datum":12.3,"type":"quantitative","axis":null},"text":{"field":"t"}}}
]},
{"data":{"values":[{"a":1,"b":1,"p":0.5,"q":1.5},{"a":0,"b":1,"p":0.5,"q":0.5},{"a":0,"b":1,"p":1.5,"q":1.5},{"a":1,"b":1,"p":2.5,"q":3.5},{"a":0,"b":1,"p":2.5,"q":2.5},{"a":0,"b":1,"p":3.5,"q":3.5},{"a":2,"b":2,"p":1,"q":3},{"a":1,"b":2,"p":1,"q":1},{"a":1,"b":2,"p":3,"q":3},{"a":1,"b":1,"p":4.5,"q":5.5},{"a":0,"b":1,"p":4.5,"q":4.5},{"a":0,"b":1,"p":5.5,"q":5.5},{"a":1,"b":1,"p":6.5,"q":7.5},{"a":0,"b":1,"p":6.5,"q":6.5},{"a":0,"b":1,"p":7.5,"q":7.5},{"a":2,"b":2,"p":5,"q":7},{"a":1,"b":2,"p":5,"q":5},{"a":1,"b":2,"p":7,"q":7},{"a":3,"b":3,"p":2,"q":6},{"a":2,"b":3,"p":2,"q":2},{"a":2,"b":3,"p":6,"q":6},{"a":1,"b":1,"p":8.5,"q":9.5},{"a":0,"b":1,"p":8.5,"q":8.5},{"a":0,"b":1,"p":9.5,"q":9.5},{"a":2,"b":2,"p":9,"q":10.5},{"a":1,"b":2,"p":9,"q":9},{"a":0,"b":2,"p":10.5,"q":10.5},{"a":4.5,"b":4.5,"p":4,"q":9.75},{"a":3,"b":4.5,"p":4,"q":4},{"a":2,"b":4.5,"p":9.75,"q":9.75},{"a":1,"b":1,"p":11.5,"q":12.5},{"a":0,"b":1,"p":11.5,"q":11.5},{"a":0,"b":1,"p":12.5,"q":12.5},{"a":1,"b":1,"p":13.5,"q":14.5},{"a":0,"b":1,"p":13.5,"q":13.5},{"a":0,"b":1,"p":14.5,"q":14.5},{"a":2,"b":2,"p":12,"q":14},{"a":1,"b":2,"p":12,"q":12},{"a":1,"b":2,"p":14,"q":14},{"a":1,"b":1,"p":15.5,"q":16.5},{"a":0,"b":1,"p":15.5,"q":15.5},{"a":0,"b":1,"p":16.5,"q":16.5},{"a":1,"b":1,"p":17.5,"q":18.5},{"a":0,"b":1,"p":17.5,"q":17.5},{"a":0,"b":1,"p":18.5,"q":18.5},{"a":2,"b":2,"p":16,"q":18},{"a":1,"b":2,"p":16,"q":16},{"a":1,"b":2,"p":18,"q":18},{"a":1,"b":1,"p":19.5,"q":20.5},{"a":0,"b":1,"p":19.5,"q":19.5},{"a":0,"b":1,"p":20.5,"q":20.5},{"a":3,"b":3,"p":17,"q":20},{"a":2,"b":3,"p":17,"q":17},{"a":1,"b":3,"p":20,"q":20},{"a":5,"b":5,"p":13,"q":18.5},{"a":2,"b":5,"p":13,"q":13},{"a":3,"b":5,"p":18.5,"q":18.5},{"a":1,"b":1,"p":21.5,"q":22.5},{"a":0,"b":1,"p":21.5,"q":21.5},{"a":0,"b":1,"p":22.5,"q":22.5},{"a":1.5,"b":1.5,"p":22,"q":23.5},{"a":1,"b":1.5,"p":22,"q":22},{"a":0,"b":1.5,"p":23.5,"q":23.5},{"a":8.5,"b":8.5,"p":15.75,"q":22.75},{"a":5,"b":8.5,"p":15.75,"q":15.75},{"a":1.5,"b":8.5,"p":22.75,"q":22.75},{"a":10,"b":10,"p":6.9,"q":19.25},{"a":4.5,"b":10,"p":6.9,"q":6.9},{"a":8.5,"b":10,"p":19.25,"q":19.25}]},"mark":{"type":"rule","stroke":"#777777","strokeWidth":0.5},"encoding":{"x":{"field":"a","type":"quantitative","axis":null,"scale":{"domain":[0,10],"range":[415.3,395],"nice":false,"zero":false}},"x2":{"field":"b"},"y":{"field":"p","type":"quantitative","axis":null,"scale":{"domain":[0,24],"range":[390,591.3],"nice":false,"zero":false}},"y2":{"field":"q"}}}
]}
